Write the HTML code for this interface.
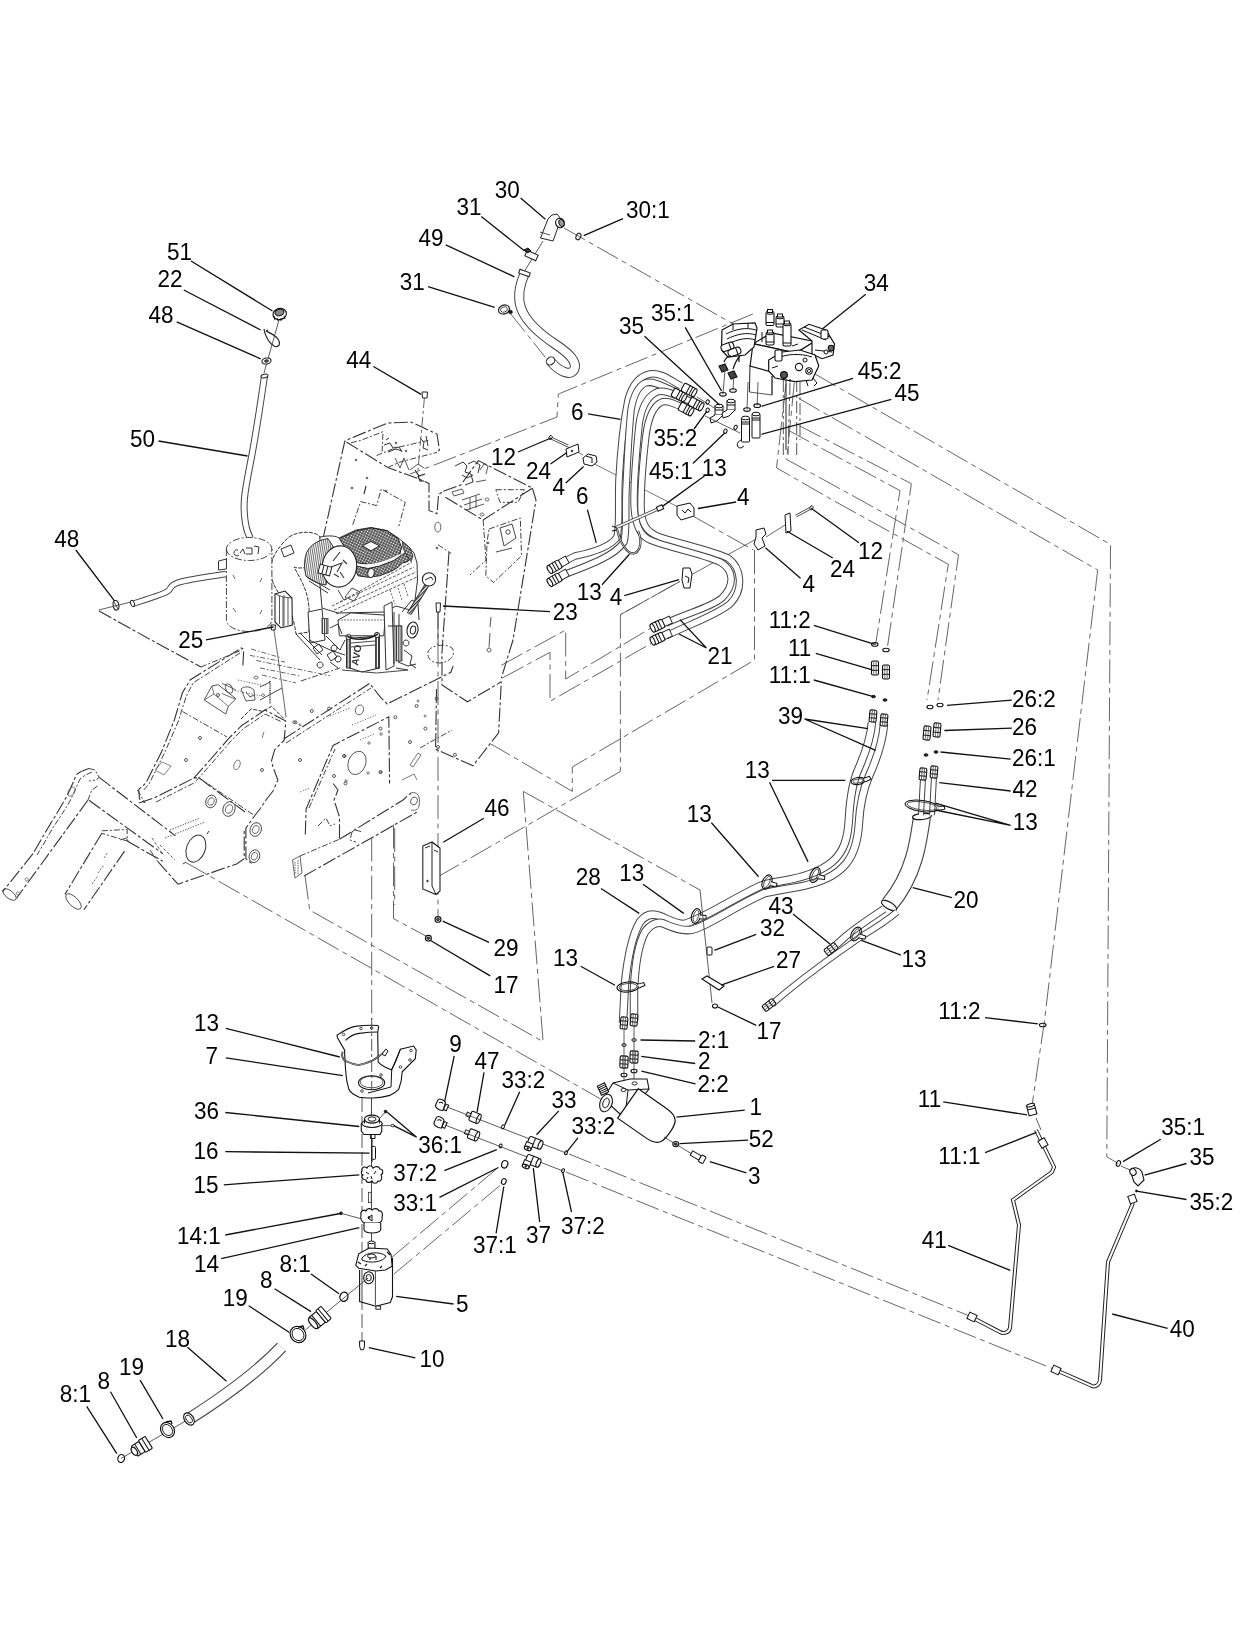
<!DOCTYPE html>
<html><head><meta charset="utf-8"><style>
html,body{margin:0;padding:0;background:#fff;}
svg{display:block;filter:grayscale(100%);}
text{font-family:"Liberation Sans",sans-serif;font-size:22.5px;fill:#000;}
</style></head><body>
<svg width="1258" height="1643" viewBox="0 0 1258 1643">
<rect width="1258" height="1643" fill="#fff"/>
<path d="M322.7 540.0 L344.8 441.2 L349.5 438.8 L387.7 423.0 L411.5 422.2 L437.0 434.0 L439.4 450.0 L437.0 452.4" stroke="#333" stroke-width="1.1" fill="none" stroke-dasharray="14 2.5 3 2.5"/>
<path d="M351.0 442.8 L360.7 440.4 L383.0 431.7 L382.1 451.6" stroke="#444" stroke-width="1" fill="none" stroke-dasharray="6 2 2 2"/>
<path d="M346.4 442.0 L387.7 467.5 L417.9 478.6 L429.0 483.4 L429.0 510.4 L437.0 513.6 L438.6 494.5 L443.3 491.3" stroke="#333" stroke-width="1.1" fill="none" stroke-dasharray="14 2.5 3 2.5"/>
<path d="M443.3 491.3 L460.8 485.0 L478.3 460.6 L532.4 488.1 L483.1 520.0 L443.3 496.0" stroke="#333" stroke-width="1.1" fill="none" stroke-dasharray="14 2.5 3 2.5"/>
<path d="M532.4 488.1 L536.0 500.0 L513.0 640.0 L501.3 678.1" stroke="#333" stroke-width="1.1" fill="none" stroke-dasharray="14 2.5 3 2.5"/>
<path d="M483.1 520.0 L486.0 560.0 L470.0 575.0" stroke="#444" stroke-width="1" fill="none" stroke-dasharray="6 2 2 2"/>
<path d="M376.6 455.5 L395.0 448.0 L430.0 440.0" stroke="#444" stroke-width="1" fill="none" stroke-dasharray="6 2 2 2"/>
<path d="M387.7 467.5 L400.0 462.0 L437.0 452.4" stroke="#444" stroke-width="1" fill="none" stroke-dasharray="6 2 2 2"/>
<path d="M352.7 524.7 L360.7 501.6 L376.6 505.6 L381.3 489.0 L405.2 502.4 L398.8 526.3" stroke="#444" stroke-width="1" fill="none" stroke-dasharray="6 2 2 2"/>
<ellipse cx="437.8" cy="527.1" rx="3" ry="5" transform="rotate(0 437.8 527.1)" stroke="#555" stroke-width="0.9" fill="none"/>
<path d="M495.8 489.7 L524.4 489.7 L518 502.4 L500 502.4 Z" stroke="#444" stroke-width="1" fill="none" stroke-dasharray="6 2 2 2"/>
<path d="M452 492 l10 -3 l2 4 l-10 3 Z M462 500 l18 -6 M464 505 l18 -6 M466 510 l18 -6 M470 498 l0 12 M476 496 l0 12" stroke="#444" stroke-width="0.9" fill="none"/>
<path d="M487 498 a2 1.5 0 1 0 0.1 0 M482 513 a2 1.5 0 1 0 0.1 0" stroke="#444" stroke-width="0.8" fill="none"/>
<path d="M455 466 l8 -4 l4 4 l-2 6 l6 2 l2 8 l-8 3 M468 464 l6 -3 l6 4 l-2 8 M462 475 l5 3 l6 -3" stroke="#333" stroke-width="1" fill="none"/>
<path d="M480 470 l4 -6 l4 2 l-2 8 M476 482 l10 -2" stroke="#444" stroke-width="0.9" fill="none"/>
<path d="M384 445 l6 -2 l3 5 l6 -1 l3 5 M388 452 l8 -3 l6 2 M386 440 l3 -2" stroke="#333" stroke-width="1" fill="none"/>
<path d="M420 438 l4 4 l-1 6 l5 2 M426 436 l2 10" stroke="#333" stroke-width="1" fill="none"/>
<path d="M395 458 l5 10 l4 -10 l5 12 M410 470 l8 -6 l6 4" stroke="#444" stroke-width="0.9" fill="none"/>
<path d="M415 470 l4 6 l6 -2 M418 476 l2 5 l4 0" stroke="#222" stroke-width="1.2" fill="none"/>
<circle cx="356" cy="460" r="0.9" stroke="#444" stroke-width="0.6" fill="#666"/>
<circle cx="367" cy="478" r="0.9" stroke="#444" stroke-width="0.6" fill="#666"/>
<circle cx="352" cy="488" r="0.9" stroke="#444" stroke-width="0.6" fill="#666"/>
<circle cx="386" cy="491" r="0.9" stroke="#444" stroke-width="0.6" fill="#666"/>
<circle cx="406" cy="451" r="0.9" stroke="#444" stroke-width="0.6" fill="#666"/>
<circle cx="396" cy="443" r="0.9" stroke="#444" stroke-width="0.6" fill="#666"/>
<circle cx="437" cy="548" r="0.9" stroke="#444" stroke-width="0.6" fill="#666"/>
<circle cx="488" cy="543" r="0.9" stroke="#444" stroke-width="0.6" fill="#666"/>
<path d="M366 486 l-2 8" stroke="#333" stroke-width="1.2" fill="none"/>
<path d="M489 529 L520.3 518 L521.5 555.8 L493.6 582.5 L485.8 575.8 L487 542.4 Z" stroke="#444" stroke-width="1" fill="none" stroke-dasharray="6 2 2 2"/>
<path d="M500 528 L512 524 L516 538 L504 546 Z M496 552 L512 548" stroke="#333" stroke-width="0.9" fill="none"/>
<circle cx="508" cy="532" r="2.2" stroke="#333" stroke-width="0.9" fill="#fff"/>
<path d="M428 652 C430 645 446 643 452 648 C456 653 452 662 440 663 C432 663 427 659 428 652 Z" stroke="#444" stroke-width="1" fill="none" stroke-dasharray="6 2 2 2"/>
<path d="M449.0 552.0 L442.0 652.0 L442.0 685.0 L467.5 701.8 L501.3 681.8" stroke="#333" stroke-width="1.1" fill="none" stroke-dasharray="14 2.5 3 2.5"/>
<path d="M436.5 689.0 L435.6 749.3 L473.0 765.7 L498.6 732.9 L501.3 681.8" stroke="#333" stroke-width="1.1" fill="none" stroke-dasharray="14 2.5 3 2.5"/>
<path d="M438.0 544.7 L451.3 553.6" stroke="#444" stroke-width="1" fill="none" stroke-dasharray="6 2 2 2"/>
<path d="M491 617 l-1 10 M490 633 l-1 14 M489 648 a2 2 0 1 0 0.1 0" stroke="#444" stroke-width="0.9" fill="none"/>
<path d="M242.9 665.4 L243.7 649.5 L241.3 648.0 L190.4 679.7 L182.5 692.5 L174.5 719.5 L161.8 751.3 L145.9 783.0 L138.7 789.4 L139.5 799.0 L145.0 803.0" stroke="#333" stroke-width="1.1" fill="none" stroke-dasharray="14 2.5 3 2.5"/>
<path d="M240.0 653.0 L193.0 683.0 L186.0 697.0 L178.0 722.0 L165.0 752.0 L149.0 784.0 L143.0 791.0" stroke="#444" stroke-width="1" fill="none" stroke-dasharray="6 2 2 2"/>
<path d="M182.5 711.5 L227.0 737.0" stroke="#444" stroke-width="1" fill="none" stroke-dasharray="6 2 2 2"/>
<path d="M193.6 778.3 L210.0 760.0 L228.6 738.6 L241.3 725.9 L265.0 710.0 L285.8 721.0 L284.2 740.2 L274.7 749.7 L271.5 760.8 L273.0 767.2 L277.9 780.0 L273.0 791.0 L266.7 799.0 L260.0 809.0 L254.8 815.5 L245.9 828.2 L245.9 858.8 L252.3 863.9" stroke="#333" stroke-width="1.1" fill="none" stroke-dasharray="14 2.5 3 2.5"/>
<path d="M196.0 781.0 L212.0 763.0 L230.0 742.0 L243.0 729.0 L265.0 714.0 L282.0 722.0" stroke="#444" stroke-width="1" fill="none" stroke-dasharray="6 2 2 2"/>
<polygon points="204.2,700.0 211.8,686.0 218.2,684.7 236.0,698.7 228.3,706.3 225.8,714.0" stroke="#444" stroke-width="0.9" fill="none"/>
<path d="M211.8 686 L214 694 L204.2 700 M214 694 L228.3 706.3" stroke="#555" stroke-width="0.8" fill="none" />
<ellipse cx="229" cy="688.5" rx="3.2" ry="5" transform="rotate(-30 229 688.5)" stroke="#444" stroke-width="0.9" fill="none"/>
<path d="M222 683.4 L236 690 M222 693.6 L235 699" stroke="#444" stroke-width="0.8" fill="none" />
<path d="M241 689 C244 686 250 686 254 690 L255 700 L246 701 Z" stroke="#444" stroke-width="0.9" fill="none" />
<path d="M246 692 l4 5 l4 -2" stroke="#333" stroke-width="0.9" fill="none" />
<path d="M270 681 L270 704" stroke="#444" stroke-width="1.6" stroke-dasharray="1 0.8" fill="none"/>
<path d="M260 687 L270 682 M260 700 L282 688" stroke="#333" stroke-width="0.9" fill="none" />
<path d="M250 655.4 L285 662 M256.3 660.5 L330 675.8 M251.2 649 L281.7 658 M260 668 L300 676 M262 675 L296 683" stroke="#555" stroke-width="0.9" fill="none" stroke-dasharray="5 2 1.5 2"/>
<path d="M241 719 L251.2 708.9 L262.7 711.4 L271.6 706.3 L284.3 719" stroke="#333" stroke-width="1" fill="none" stroke-dasharray="4 1.5"/>
<path d="M300.8 681 L340 668" stroke="#444" stroke-width="1" fill="none" stroke-dasharray="6 2 2 2"/>
<path d="M294 721 a1.5 1.2 0 1 0 0.1 0 M263 694 a1.5 1.2 0 1 0 0.1 0 M256 676 a2 1.5 0 1 0 0.1 0" stroke="#444" stroke-width="0.8" fill="none"/>
<polygon points="155.0,770.0 162.0,762.0 171.0,766.0 164.0,775.0" stroke="#666" stroke-width="0.8" fill="none"/>
<path d="M238 760 a3 5 20 1 0 0.1 0 M262 738 l2 -6" stroke="#555" stroke-width="0.8" fill="none"/>
<path d="M283.8 739.0 L369.7 683.4 L380.8 697.7 L387.2 704.0 L450.8 672.3 L453.2 665.9" stroke="#333" stroke-width="1.1" fill="none" stroke-dasharray="14 2.5 3 2.5"/>
<path d="M286.0 743.0 L371.0 688.0" stroke="#444" stroke-width="1" fill="none" stroke-dasharray="6 2 2 2"/>
<path d="M360 705 a4 5 20 1 0 0.1 0" stroke="#555" stroke-width="0.9" fill="none"/>
<path d="M300 724 a1 1 0 1 0 0.1 0 M418 700 a1 1 0 1 0 0.1 0 M425 715 a1 1 0 1 0 0.1 0" stroke="#555" stroke-width="0.8" fill="none"/>
<path d="M305.3 834.4 L306.1 809.0 L333.1 745.4 L388.8 716.8 L389.6 783.5" stroke="#333" stroke-width="1.1" fill="none" stroke-dasharray="14 2.5 3 2.5"/>
<path d="M309.0 808.0 L335.0 749.0" stroke="#444" stroke-width="1" fill="none" stroke-dasharray="6 2 2 2"/>
<ellipse cx="357" cy="762.9" rx="8.7" ry="12" transform="rotate(20 357 762.9)" stroke="#555" stroke-width="0.9" fill="none"/>
<circle cx="345" cy="756" r="1.2" stroke="#555" stroke-width="0.8" fill="none"/>
<circle cx="369" cy="743" r="1.2" stroke="#555" stroke-width="0.8" fill="none"/>
<circle cx="381" cy="734" r="1.2" stroke="#555" stroke-width="0.8" fill="none"/>
<circle cx="346" cy="781" r="1.2" stroke="#555" stroke-width="0.8" fill="none"/>
<circle cx="368" cy="773" r="1.2" stroke="#555" stroke-width="0.8" fill="none"/>
<circle cx="381" cy="772" r="1.2" stroke="#555" stroke-width="0.8" fill="none"/>
<path d="M333.1 783.5 L338.0 790.0 L334.0 800.0 L339.5 817.0 L339.5 839.2" stroke="#333" stroke-width="1.1" fill="none" stroke-dasharray="14 2.5 3 2.5"/>
<path d="M318.0 826.0 L326.0 818.0 L330.0 826.0 L335.0 824.0" stroke="#444" stroke-width="1" fill="none" stroke-dasharray="6 2 2 2"/>
<path d="M339.5 839.2 L403.0 800.0 L411.0 793.0" stroke="#333" stroke-width="1.1" fill="none" stroke-dasharray="14 2.5 3 2.5"/>
<path d="M304.0 876.0 L382.0 832.0 L417.0 812.0" stroke="#333" stroke-width="1.1" fill="none" stroke-dasharray="14 2.5 3 2.5"/>
<path d="M411 793 C417 791 421 796 419 806 C418 810 414 811 411 810" stroke="#555" stroke-width="0.9" fill="none" />
<ellipse cx="414" cy="801" rx="3.2" ry="4" transform="rotate(20 414 801)" stroke="#555" stroke-width="0.9" fill="none"/>
<polygon points="292.5,860.0 300.0,856.0 302.0,873.0 295.0,878.0" stroke="#555" stroke-width="0.9" fill="none"/>
<path d="M295 862 l0 12 M298 860 l0 14" stroke="#555" stroke-width="0.9" fill="none" stroke-dasharray="1.5 1"/>
<path d="M300.0 856.0 L339.5 839.2" stroke="#444" stroke-width="1" fill="none" stroke-dasharray="6 2 2 2"/>
<path d="M345 836 l10 -6 l8 2 M352 832 l-2 8 l6 2" stroke="#444" stroke-width="1" fill="none" stroke-dasharray="6 2 2 2"/>
<path d="M410 765 l8 -12 l3 2 l-8 12 Z M402 780 l12 -6 l3 6" stroke="#555" stroke-width="0.8" fill="none"/>
<path d="M420.0 748.0 L452.0 730.0" stroke="#444" stroke-width="1" fill="none" stroke-dasharray="6 2 2 2"/>
<path d="M89 768.5 C84 770 79 772 76.3 774.8 C72 785 69 792 66 797.7 C60 808 56 815 50.9 823 C45 833 38 845 33 853.7" stroke="#333" stroke-width="1.1" fill="none" stroke-dasharray="14 2.5 3 2.5"/>
<path d="M92 772 C87 774 82 777 80 779 C76 788 73 795 70 801 C64 811 59 819 54 826 C48 836 42 847 37 855" stroke="#444" stroke-width="1" fill="none" stroke-dasharray="6 2 2 2"/>
<path d="M33.0 853.7 L2.5 891.8" stroke="#333" stroke-width="1.1" fill="none" stroke-dasharray="14 2.5 3 2.5"/>
<path d="M87.8 800.3 L16.5 898.2" stroke="#333" stroke-width="1.1" fill="none" stroke-dasharray="14 2.5 3 2.5"/>
<ellipse cx="9.5" cy="894.5" rx="8" ry="3.8" transform="rotate(38 9.5 894.5)" stroke="#444" stroke-width="0.9" fill="none"/>
<path d="M26.7 877.9 a1.6 1.6 0 1 0 0.1 0 M17.8 891.8 a1.6 1.6 0 1 0 0.1 0 M73 787 a3 5 30 1 0 0.1 0" stroke="#555" stroke-width="0.8" fill="none"/>
<path d="M89.0 768.5 L95.0 770.0 L99.2 777.4 L96.0 780.0 L89.0 781.0" stroke="#444" stroke-width="1" fill="none" stroke-dasharray="6 2 2 2"/>
<path d="M99.2 777.4 L175.5 835.9" stroke="#333" stroke-width="1.1" fill="none" stroke-dasharray="14 2.5 3 2.5"/>
<path d="M89.0 800.3 L162.8 853.7" stroke="#333" stroke-width="1.1" fill="none" stroke-dasharray="14 2.5 3 2.5"/>
<path d="M87.8 800.3 L92.0 790.0 L99.0 785.0" stroke="#444" stroke-width="1" fill="none" stroke-dasharray="6 2 2 2"/>
<path d="M101.8 830.8 L127.2 829.5 L127.2 841.0 L101.8 833.3" stroke="#444" stroke-width="1" fill="none" stroke-dasharray="6 2 2 2"/>
<path d="M101.8 833.3 L64.9 894.4" stroke="#333" stroke-width="1.1" fill="none" stroke-dasharray="14 2.5 3 2.5"/>
<path d="M124.6 851.1 L84.0 909.7" stroke="#333" stroke-width="1.1" fill="none" stroke-dasharray="14 2.5 3 2.5"/>
<ellipse cx="73.5" cy="901.5" rx="10" ry="4.5" transform="rotate(45 73.5 901.5)" stroke="#444" stroke-width="0.9" fill="none"/>
<path d="M127.2 841.0 L162.8 861.3" stroke="#333" stroke-width="1.1" fill="none" stroke-dasharray="14 2.5 3 2.5"/>
<path d="M98 873 l6 -8 M92 884 l6 -8 M104 858 l4 -6" stroke="#555" stroke-width="0.9" fill="none" stroke-dasharray="2 1.5"/>
<path d="M120 840 l6 -2 l3 4" stroke="#444" stroke-width="0.9" fill="none"/>
<path d="M157.7 861.3 L178.0 884.2 L236.6 863.9 L244.2 858.8 L244.2 830.8" stroke="#333" stroke-width="1.1" fill="none" stroke-dasharray="14 2.5 3 2.5"/>
<path d="M137.4 790.0 L145.0 802.8" stroke="#444" stroke-width="1" fill="none" stroke-dasharray="6 2 2 2"/>
<path d="M150.0 850.0 L157.7 861.3" stroke="#444" stroke-width="1" fill="none" stroke-dasharray="6 2 2 2"/>
<path d="M160 845 L175 860 M152 838 L162 853" stroke="#555" stroke-width="0.9" fill="none" stroke-dasharray="3 2"/>
<ellipse cx="195.9" cy="848.6" rx="9.3" ry="14" transform="rotate(20 195.9 848.6)" stroke="#333" stroke-width="1" fill="none"/>
<path d="M186 862 l-3 2 M207 834 l2 -3" stroke="#333" stroke-width="1" fill="none" />
<path d="M170 830 L200 818 M165 838 L205 822" stroke="#555" stroke-width="0.9" fill="none" stroke-dasharray="1.5 1.2"/>
<path d="M139.0 803.0 L154.0 798.0 L194.0 778.0 L199.0 777.8 L228.0 799.4 L245.0 812.0" stroke="#333" stroke-width="1.1" fill="none" stroke-dasharray="14 2.5 3 2.5"/>
<path d="M156.0 802.0 L196.0 782.0" stroke="#444" stroke-width="1" fill="none" stroke-dasharray="6 2 2 2"/>
<ellipse cx="211" cy="801.5" rx="5.2" ry="6.5" transform="rotate(20 211 801.5)" stroke="#444" stroke-width="0.9" fill="none"/>
<ellipse cx="211" cy="801.5" rx="2.9250000000000003" ry="3.9" transform="rotate(20 211 801.5)" stroke="#555" stroke-width="0.8" fill="none"/>
<ellipse cx="229" cy="809" rx="6.0" ry="7.5" transform="rotate(20 229 809)" stroke="#444" stroke-width="0.9" fill="none"/>
<ellipse cx="229" cy="809" rx="3.375" ry="4.5" transform="rotate(20 229 809)" stroke="#555" stroke-width="0.8" fill="none"/>
<ellipse cx="255.7" cy="829.5" rx="5.6000000000000005" ry="7" transform="rotate(20 255.7 829.5)" stroke="#444" stroke-width="0.9" fill="none"/>
<ellipse cx="255.7" cy="829.5" rx="3.15" ry="4.2" transform="rotate(20 255.7 829.5)" stroke="#555" stroke-width="0.8" fill="none"/>
<ellipse cx="254.4" cy="856.2" rx="5.2" ry="6.5" transform="rotate(20 254.4 856.2)" stroke="#444" stroke-width="0.9" fill="none"/>
<ellipse cx="254.4" cy="856.2" rx="2.9250000000000003" ry="3.9" transform="rotate(20 254.4 856.2)" stroke="#555" stroke-width="0.8" fill="none"/>
<path d="M198.4 777.4 L254.4 815.5" stroke="#444" stroke-width="1" fill="none" stroke-dasharray="6 2 2 2"/>
<circle cx="295.5" cy="722.3" r="1.5" stroke="#444" stroke-width="0.9" fill="none"/>
<circle cx="329" cy="708.6" r="1.5" stroke="#444" stroke-width="0.9" fill="none"/>
<circle cx="380.4" cy="728.6" r="1.5" stroke="#444" stroke-width="0.9" fill="none"/>
<circle cx="416.6" cy="706" r="1.5" stroke="#444" stroke-width="0.9" fill="none"/>
<circle cx="425.4" cy="728.6" r="1.5" stroke="#444" stroke-width="0.9" fill="none"/>
<circle cx="395.4" cy="717.3" r="1.5" stroke="#444" stroke-width="0.9" fill="none"/>
<circle cx="311.8" cy="711" r="1.5" stroke="#444" stroke-width="0.9" fill="none"/>
<circle cx="344" cy="756" r="1.5" stroke="#444" stroke-width="0.9" fill="none"/>
<circle cx="380.4" cy="772.2" r="1.5" stroke="#444" stroke-width="0.9" fill="none"/>
<circle cx="334" cy="776" r="1.5" stroke="#444" stroke-width="0.9" fill="none"/>
<circle cx="345.5" cy="783.5" r="1.5" stroke="#444" stroke-width="0.9" fill="none"/>
<circle cx="436.6" cy="698.6" r="1.5" stroke="#444" stroke-width="0.9" fill="none"/>
<circle cx="455" cy="754.8" r="1.5" stroke="#444" stroke-width="0.9" fill="none"/>
<circle cx="438" cy="747" r="1.5" stroke="#444" stroke-width="0.9" fill="none"/>
<circle cx="218" cy="695" r="1.5" stroke="#444" stroke-width="0.9" fill="none"/>
<circle cx="200" cy="738" r="1.5" stroke="#444" stroke-width="0.9" fill="none"/>
<circle cx="262" cy="770" r="1.5" stroke="#444" stroke-width="0.9" fill="none"/>
<circle cx="186" cy="760" r="1.5" stroke="#444" stroke-width="0.9" fill="none"/>
<circle cx="410" cy="742" r="1.5" stroke="#444" stroke-width="0.9" fill="none"/>
<circle cx="300" cy="760" r="1.5" stroke="#444" stroke-width="0.9" fill="none"/>
<path d="M330 716 l20 -8 M352 725 l24 -10 M360 740 l14 -6 M300 792 l10 -4" stroke="#555" stroke-width="0.9" fill="none" stroke-dasharray="1.2 1.6"/>
<path d="M238 680 l28 6 M232 690 l30 6" stroke="#555" stroke-width="0.9" fill="none" stroke-dasharray="1.2 1.6"/>
<path d="M201.0 667.0 L242.0 650.0" stroke="#444" stroke-width="1" fill="none" stroke-dasharray="6 2 2 2"/>
<path d="M99.0 611.0 L151.2 640.0 L201.0 667.0" stroke="#333" stroke-width="1.1" fill="none" stroke-dasharray="14 2.5 3 2.5"/>
<path d="M185.7 862.4 L600.3 1098.8" stroke="#666" stroke-width="1" fill="none" stroke-dasharray="24 4.5 5 4.5"/>
<path d="M305.0 875.8 L309.7 910.1 L543.1 1041.6 L523.3 791.4" stroke="#666" stroke-width="1" fill="none" stroke-dasharray="24 4.5 5 4.5"/>
<path d="M371.7 837.6 L371.7 1020.0" stroke="#666" stroke-width="1" fill="none" stroke-dasharray="24 4.5 5 4.5"/>
<path d="M438.0 605.0 L438.0 919.0" stroke="#666" stroke-width="1" fill="none" stroke-dasharray="24 4.5 5 4.5"/>
<path d="M393.5 824.5 L393.5 918.6 L429.0 937.7" stroke="#666" stroke-width="1" fill="none" stroke-dasharray="24 4.5 5 4.5"/>
<path d="M523.3 791.4 L700.0 890.0" stroke="#666" stroke-width="1" fill="none" stroke-dasharray="24 4.5 5 4.5"/>
<path d="M438.0 876.7 L571.2 800.0" stroke="#666" stroke-width="1" fill="none" stroke-dasharray="24 4.5 5 4.5"/>
<path d="M394.7 828.2 L394.7 905.0" stroke="#666" stroke-width="1" fill="none" stroke-dasharray="24 4.5 5 4.5"/>
<path d="M501.3 665.3 L565.7 630.0 L565.7 679.0 L651.3 627.8" stroke="#666" stroke-width="1" fill="none" stroke-dasharray="24 4.5 5 4.5"/>
<path d="M502.2 678.1 L550.0 652.3 L550.0 701.3 L651.3 643.4" stroke="#666" stroke-width="1" fill="none" stroke-dasharray="24 4.5 5 4.5"/>
<path d="M620.4 614.7 L620.4 771.4 L571.2 800.0" stroke="#666" stroke-width="1" fill="none" stroke-dasharray="24 4.5 5 4.5"/>
<path d="M754.5 550.0 L754.5 660.1 L572.3 767.0 L572.3 791.4 L491.0 744.0" stroke="#666" stroke-width="1" fill="none" stroke-dasharray="24 4.5 5 4.5"/>
<path d="M620.4 614.7 L680.0 581.4" stroke="#666" stroke-width="1" fill="none" stroke-dasharray="24 4.5 5 4.5"/>
<path d="M752.9 314.0 L558.3 394.1 L557.0 417.0 L440.0 462.8 L410.0 474.0" stroke="#666" stroke-width="1" fill="none" stroke-dasharray="24 4.5 5 4.5"/>
<path d="M551.0 438.0 L583.0 455.0" stroke="#444" stroke-width="0.8" fill="none"/>
<path d="M583.0 458.0 L680.0 508.0" stroke="#555" stroke-width="0.8" fill="none"/>
<path d="M694.0 516.7 L753.4 550.0" stroke="#666" stroke-width="1" fill="none" stroke-dasharray="24 4.5 5 4.5"/>
<path d="M692.0 574.4 L760.0 537.0" stroke="#444" stroke-width="0.8" fill="none"/>
<path d="M680.0 581.4 L620.4 614.7" stroke="#666" stroke-width="1" fill="none" stroke-dasharray="24 4.5 5 4.5"/>
<defs><pattern id="mesh" width="2.6" height="2.6" patternUnits="userSpaceOnUse" patternTransform="rotate(25)"><rect width="2.6" height="2.6" fill="#222"/><rect x="0.45" y="0.45" width="1.7" height="1.7" fill="#fff"/></pattern><pattern id="rib" width="1.9" height="4" patternUnits="userSpaceOnUse" patternTransform="rotate(8)"><rect width="1.9" height="4" fill="#fff"/><rect width="0.8" height="4" fill="#555"/></pattern><pattern id="hatch" width="2.5" height="2.5" patternUnits="userSpaceOnUse" patternTransform="rotate(45)"><rect width="2.5" height="2.5" fill="#fff"/><rect width="1.2" height="2.5" fill="#222"/></pattern><pattern id="vhatch" width="1.8" height="3" patternUnits="userSpaceOnUse"><rect width="1.8" height="3" fill="#fff"/><rect width="0.9" height="3" fill="#333"/></pattern></defs>
<path d="M289 537 C295 533 305 531 313 533 C317 534 319 535 320 537 L322 560 C318 566 300 570 294 567 C300 578 306 588 308 600 C310 612 309 622 309 632 L296 634 C294 620 290 606 282 597 C274 588 270 578 271 566 C272 556 280 545 289 537 Z" stroke="#333" stroke-width="1" fill="#fff" stroke-dasharray="4 1.2"/>
<path d="M281 549 l10 -4 l3 8 l-10 4 Z" stroke="#333" stroke-width="1" fill="#fff" />
<path d="M320 537 C330 535 336 536 339 538 L356 530 L371 527.5 L387 530.5 L399 538.5 L409 547 L414 553 L417 563 L417.5 580 L415 600 L410 610 L396 606 L385 612 L338 613 L322 608 L320 585 Z" stroke="#333" stroke-width="1" fill="#fff" />
<polygon points="339.4,538.6 356.6,530.7 370.9,527.9 386.6,530.7 398.1,538.6 401.6,547.2 399.5,555.8 390.9,558.6 379.5,562.9 368.0,564.4 358.0,562.9 350.8,554.3 343.7,545.8" stroke="#222" stroke-width="1" fill="url(#mesh)"/>
<polygon points="362.3,545.8 370.9,541.5 379.5,545.8 370.9,550.8" stroke="#222" stroke-width="1" fill="#fff"/>
<path d="M356.6 566 L368 568.5 L379.5 566 L393.8 560.5 L402.4 554.5 L408 551 L411 556 L408 561.5 L402.4 563 L398.1 567.2 L390.9 571.5 L379.5 575.8 L368 577.2 L358 575.8 L356 571 Z" stroke="#222" stroke-width="1" fill="url(#mesh)"/>
<ellipse cx="371" cy="573" rx="3.2" ry="4.5" transform="rotate(10 371 573)" stroke="#222" stroke-width="1" fill="#fff"/>
<path d="M356.6 564.5 C368 567 382 564 400 555" stroke="#fff" stroke-width="1.6" fill="none" />
<path d="M402.4 541.5 L410 548 L413 556 L411 561.5 L407 556 L403 548 Z" stroke="#222" stroke-width="0.8" fill="url(#mesh)"/>
<path d="M306.5 552.9 C310 545 318 540 328 538.6 L334 548 L326 585 C318 584 310 580 306 576 C304 568 304 560 306.5 552.9 Z" stroke="#333" stroke-width="1" fill="url(#rib)" />
<ellipse cx="339.4" cy="566.5" rx="17.2" ry="20.7" transform="rotate(8 339.4 566.5)" stroke="#222" stroke-width="1.1" fill="#fff"/>
<path d="M333 561 l7 -9 M331 567 l11 -4 l-5 9 M340 572 l4 6 M334 574 l5 3 M343 560 l4 4" stroke="#333" stroke-width="1.1" fill="none" />
<g transform="translate(321 569) rotate(15)"><rect x="-2" y="-4.5" width="12" height="9" stroke="#222" stroke-width="1" fill="#fff"/><line x1="2" y1="-4.5" x2="2" y2="4.5" stroke="#222"/><line x1="6" y1="-4.5" x2="6" y2="4.5" stroke="#222"/></g>
<path d="M307 577 L330 590 M309 581 L328 593" stroke="#333" stroke-width="1" fill="none" />
<path d="M332 606 L414 567 M334 610 L416 572 M336 614 L417 577 M340 602 L412 562" stroke="#444" stroke-width="0.9" fill="none" stroke-dasharray="3 1.5"/>
<path d="M345 597 L352 588 L360 592 L354 601 Z M338 590 L344 600" stroke="#333" stroke-width="0.9" fill="none" />
<path d="M390 590 L395 604 M398 588 L402 600 M404 584 L408 596" stroke="#555" stroke-width="0.9" fill="none" stroke-dasharray="2 1.5"/>
<polygon points="338.0,620.0 350.8,612.9 383.8,615.0 385.2,618.6 383.8,635.8 339.4,635.8" stroke="#333" stroke-width="1" fill="#fff"/>
<path d="M338 620 L384 620" stroke="#555" stroke-width="0.8" fill="none" stroke-dasharray="2 1"/>
<polygon points="346.6,638.6 379.5,636.0 379.5,668.0 362.0,672.0 346.6,667.0" stroke="#222" stroke-width="1" fill="#fff"/>
<rect x="346.6" y="638" width="4" height="30" fill="url(#vhatch)" stroke="#222" stroke-width="0.8"/>
<rect x="375.5" y="636" width="4" height="32" fill="url(#vhatch)" stroke="#222" stroke-width="0.8"/>
<path d="M351 643 L375 641 M351 647 L375 645" stroke="#333" stroke-width="0.9" fill="none" />
<text x="358" y="666" transform="rotate(-80 358 666)" style="font-size:10px;font-weight:bold;fill:#333">AVO</text>
<circle cx="348.5" cy="637" r="2.6" stroke="#222" stroke-width="1" fill="#fff"/>
<circle cx="377" cy="635" r="2.6" stroke="#222" stroke-width="1" fill="#fff"/>
<path d="M347 636 C355 641 368 640 378 634" stroke="#222" stroke-width="1.6" fill="none" />
<path d="M308 612 L322 609 L325 640 L310 643 Z" stroke="#333" stroke-width="1" fill="#fff" />
<rect x="322" y="618.6" width="6" height="15" fill="url(#vhatch)" stroke="#333" stroke-width="0.8"/>
<path d="M296 634 L320 660 M300 633 L322 655 M309 640 L330 650 L345 655" stroke="#333" stroke-width="1" fill="none" />
<path d="M313 648 l6 -4 l4 6 l-6 4 Z M327 655 l6 -4 l4 6 l-6 4 Z M320 662 a3 3 0 1 0 0.1 0 M330 662 l8 6" stroke="#333" stroke-width="1" fill="none" />
<path d="M326 636 L340 650 L345 640 M330 628 l8 -4 l4 10" stroke="#333" stroke-width="1" fill="none" />
<path d="M334 645 a3 3 0 1 0 0.1 0 M338 656 a3 3 0 1 0 0.1 0" stroke="#222" stroke-width="1" fill="none" />
<path d="M275 594 L285 591 L292 598 L292.3 625 L281 628 L275 622 Z" stroke="#222" stroke-width="1.1" fill="#fff" />
<path d="M279.5 596 L279.5 624 M284 595 L284 626 M288 597 L288 625 M275 594 L283 597 L292 598 M283 597 L283 627" stroke="#444" stroke-width="0.9" fill="none" />
<path d="M384 606 L392 602 L394 666 L386 670 Z" stroke="#333" stroke-width="1" fill="#fff" />
<path d="M394 612 L394 664 M399 614 L399 662 M388 626 L402 626" stroke="#333" stroke-width="1" fill="none" />
<rect x="396" y="626" width="6" height="35" fill="url(#vhatch)" stroke="#333" stroke-width="0.8"/>
<ellipse cx="412.5" cy="630" rx="5.5" ry="8" transform="rotate(10 412.5 630)" stroke="#222" stroke-width="1.1" fill="#fff"/>
<ellipse cx="413" cy="630" rx="2.6" ry="4" transform="rotate(10 413 630)" stroke="#222" stroke-width="1" fill="none"/>
<path d="M402 612 L412 600 L418 604 L419 620 M404 650 l8 6 l-2 8 l6 4 M398 662 l10 4 l8 -2" stroke="#333" stroke-width="1" fill="none" />
<path d="M406 640 a3 3 0 1 0 0.1 0 M396 668 l12 2" stroke="#333" stroke-width="1" fill="none" />
<path d="M409 614 L427 585" stroke="#333" stroke-width="5" fill="none"/><path d="M409 614 L427 585" stroke="url(#hatch)" stroke-width="3" fill="none"/>
<circle cx="429" cy="579.4" r="6.6" stroke="#222" stroke-width="1.1" fill="#fff"/>
<path d="M425 580 l6 -3 l2 3" stroke="#222" stroke-width="1" fill="none" />
<path d="M342 670 L376.6 673 L408 670" stroke="#444" stroke-width="1" fill="none" />
<path d="M273.5 627.0 L279.0 664.0 L286.0 717.0" stroke="#444" stroke-width="0.8" fill="none"/>
<path d="M271 625 L275.5 625 L275 630 L271.5 630 Z" stroke="#222" stroke-width="1" fill="#fff" />
<path d="M436 603 L440.5 603 L440 612 L436.5 612 Z" stroke="#222" stroke-width="1" fill="#fff" />
<path d="M438.0 612.0 L438.0 645.0" stroke="#333" stroke-width="0.8" fill="none"/>
<path d="M422 392 L427.5 392 L427 398 L422.5 398 Z" stroke="#222" stroke-width="1" fill="#fff" />
<path d="M424.4 398.0 L418.0 470.0" stroke="#555" stroke-width="0.9" fill="none" stroke-dasharray="10 3 3 3"/>
<path d="M279.0 320.0 L264.0 373.0" stroke="#333" stroke-width="0.8" fill="none"/>
<path d="M264.5 376 C261 400 256 435 250 465 S243 505 245 520 S249 533 250 538" stroke="#444" stroke-width="7" fill="none" stroke-linecap="butt" stroke-linejoin="round"/>
<path d="M264.5 376 C261 400 256 435 250 465 S243 505 245 520 S249 533 250 538" stroke="#fff" stroke-width="5" fill="none" stroke-linecap="butt" stroke-linejoin="round"/>
<ellipse cx="264.5" cy="376" rx="3.6" ry="1.8" transform="rotate(-10 264.5 376)" stroke="#222" stroke-width="1" fill="#fff"/>
<ellipse cx="279.7" cy="314" rx="6.8" ry="5.6" transform="rotate(-15 279.7 314)" stroke="#111" stroke-width="1.2" fill="#fff"/>
<ellipse cx="279.5" cy="312.5" rx="4.5" ry="3.2" transform="rotate(-15 279.5 312.5)" stroke="#111" stroke-width="1" fill="#888"/>
<path d="M274 316 L275 320 M277 318 L278 321 M281 318 L281 321 M284 316 L285 319" stroke="#111" stroke-width="0.9" fill="none" />
<path d="M264 329 C265 336 269 343 274 346 C279 348 281 344 278 339 C275 335 270 333 266 331 M266 331 L268 330" stroke="#222" stroke-width="1.2" fill="none" />
<ellipse cx="266.5" cy="361" rx="4.6" ry="3" transform="rotate(-10 266.5 361)" stroke="#222" stroke-width="1.1" fill="#fff"/>
<ellipse cx="266.5" cy="361" rx="2" ry="1.2" transform="rotate(-10 266.5 361)" stroke="#222" stroke-width="0.8" fill="#555"/>
<path d="M226.4 549 L226.4 620 A22.7 11.5 0 0 0 271.9 620 L271.9 549 A22.7 11.5 0 0 0 226.4 549 Z" stroke="#444" stroke-width="1" fill="#fff" stroke-dasharray="7 2 2 2"/>
<path d="M226.4 549 A22.7 11.5 0 0 0 271.9 549" stroke="#444" stroke-width="1" fill="none" stroke-dasharray="7 2 2 2"/>
<path d="M240 553 l3 -4 l2 5 M246 548 l6 0 l0 6 l-6 0 M254 546 l5 1 l-1 7 M238 550 a3 3 0 1 0 1 5" stroke="#333" stroke-width="1" fill="none" />
<path d="M233 575 l2 4 M233 608 l3 4 M262 578 l-2 4 M262 610 l-2 4" stroke="#555" stroke-width="0.9" fill="none" />
<polygon points="218.5,561.0 226.4,559.0 226.4,569.0 218.5,570.0" stroke="#333" stroke-width="1" fill="#fff"/>
<path d="M226 574 C205 577 185 580 177 583 S172 588 168 591 S145 600 132 604" stroke="#444" stroke-width="6.5" fill="none" stroke-linecap="butt" stroke-linejoin="round"/>
<path d="M226 574 C205 577 185 580 177 583 S172 588 168 591 S145 600 132 604" stroke="#fff" stroke-width="4.5" fill="none" stroke-linecap="butt" stroke-linejoin="round"/>
<ellipse cx="132.5" cy="603.5" rx="1.8" ry="3.3" transform="rotate(-20 132.5 603.5)" stroke="#222" stroke-width="1" fill="#fff"/>
<ellipse cx="116" cy="605.3" rx="2.8" ry="4.8" transform="rotate(-10 116 605.3)" stroke="#222" stroke-width="1.1" fill="#fff"/>
<path d="M114.0 602.0 L118.0 609.0" stroke="#222" stroke-width="0.8" fill="none"/>
<path d="M98.7 610.0 L131.0 602.0" stroke="#333" stroke-width="0.8" fill="none"/>
<polygon points="540.5,238.0 548.0,219.0 552.0,215.0 557.0,214.0 561.0,219.0 553.0,241.0" stroke="#222" stroke-width="1" fill="#fff"/>
<ellipse cx="560" cy="223" rx="4.3" ry="4.8" transform="rotate(-20 560 223)" stroke="#111" stroke-width="1.2" fill="#fff"/>
<ellipse cx="561.5" cy="223" rx="2.5" ry="3.6" transform="rotate(-20 561.5 223)" stroke="#111" stroke-width="1" fill="#999"/>
<path d="M540.0 232.0 L550.0 235.0" stroke="#222" stroke-width="0.8" fill="none"/>
<path d="M543.0 241.0 L524.0 272.0" stroke="#333" stroke-width="0.8" fill="none"/>
<g transform="translate(531.5 255.5) rotate(25)"><rect x="-6" y="-3" width="12" height="6" stroke="#222" stroke-width="1" fill="#fff"/></g>
<path d="M524 250 l4 -2 l3 3 l-4 2 Z" stroke="#111" stroke-width="1" fill="#333" />
<path d="M524.5 274 C520 284 517 296 521 308 C526 322 540 334 555 344 C570 354 578 362 574 370 C570 376 560 372 551 362" stroke="#444" stroke-width="10" fill="none" stroke-linecap="butt" stroke-linejoin="round"/>
<path d="M524.5 274 C520 284 517 296 521 308 C526 322 540 334 555 344 C570 354 578 362 574 370 C570 376 560 372 551 362" stroke="#fff" stroke-width="8" fill="none" stroke-linecap="butt" stroke-linejoin="round"/>
<ellipse cx="550.5" cy="361" rx="4.5" ry="3.6" transform="rotate(-40 550.5 361)" stroke="#222" stroke-width="1" fill="#fff"/>
<g transform="translate(524.5 273) rotate(20)"><rect x="-5.5" y="-2" width="11" height="4" stroke="#222" stroke-width="1" fill="#fff"/></g>
<ellipse cx="504" cy="309.5" rx="5.6" ry="4.4" transform="rotate(-20 504 309.5)" stroke="#222" stroke-width="1.2" fill="none"/>
<ellipse cx="504" cy="309.5" rx="3.5" ry="2.6" transform="rotate(-20 504 309.5)" stroke="#333" stroke-width="0.8" fill="none"/>
<circle cx="510.5" cy="312" r="1.8" stroke="#111" stroke-width="0.8" fill="#111"/>
<path d="M510.0 313.0 L545.4 357.4" stroke="#666" stroke-width="1" fill="none" stroke-dasharray="24 4.5 5 4.5"/>
<path d="M564.0 228.0 L735.0 325.0" stroke="#666" stroke-width="1" fill="none" stroke-dasharray="24 4.5 5 4.5"/>
<ellipse cx="578.4" cy="236.5" rx="2.3" ry="3.4" transform="rotate(25 578.4 236.5)" stroke="#222" stroke-width="1.1" fill="none"/>
<path d="M783.3 380 L783.3 455 M796.7 380 L796.7 455 M790 383 L788 455 M800 382 L800 440" stroke="#444" stroke-width="0.9" fill="none" stroke-dasharray="12 3 3 3"/>
<path d="M786.0 383.8 L776.5 467.8 L832.5 500.0 L948.3 564.3 L927.0 700.0" stroke="#666" stroke-width="1" fill="none" stroke-dasharray="24 4.5 5 4.5"/>
<path d="M794.3 382.5 L786.7 459.5 L860.5 500.0 L958.5 554.8 L938.0 700.0" stroke="#666" stroke-width="1" fill="none" stroke-dasharray="24 4.5 5 4.5"/>
<path d="M799.4 425.8 L911.4 483.7 L887.0 650.0" stroke="#666" stroke-width="1" fill="none" stroke-dasharray="24 4.5 5 4.5"/>
<path d="M788.0 430.2 L900.0 490.6 L875.5 645.0" stroke="#666" stroke-width="1" fill="none" stroke-dasharray="24 4.5 5 4.5"/>
<path d="M798.8 398.4 L1097.7 570.0 L1044.6 1020.0 L1032.4 1103.0" stroke="#666" stroke-width="1" fill="none" stroke-dasharray="24 4.5 5 4.5"/>
<path d="M815.0 374.0 L1110.5 544.5 L1106.8 1156.8 L1118.4 1163.5" stroke="#666" stroke-width="1" fill="none" stroke-dasharray="24 4.5 5 4.5"/>
<path d="M750 365 L749.4 392 M786 378 L786 450 M772 376 L772 395" stroke="#222" stroke-width="1" fill="none" />
<path d="M749.4 392 L772 395 L772 376" stroke="#444" stroke-width="0.9" fill="none" />
<polygon points="753.0,343.7 771.6,333.0 814.5,341.5 796.0,353.0" stroke="#111" stroke-width="1.2" fill="#fff"/>
<polygon points="753.0,343.7 796.0,353.0 796.0,379.0 750.1,366.0" stroke="#111" stroke-width="1.2" fill="#fff"/>
<polygon points="796.0,353.0 814.5,341.5 815.0,364.0 796.0,379.0" stroke="#111" stroke-width="1.2" fill="#fff"/>
<polygon points="722.0,330.0 733.0,324.0 755.0,322.9 757.0,328.0 754.0,347.0 745.0,355.0 728.0,357.0 721.5,350.0" stroke="#111" stroke-width="1.2" fill="#fff"/>
<path d="M726 334 C736 329 746 327 756 330 M727 339 C737 334 747 332 756 335 M728 344 C738 339 748 337 755 340" stroke="#111" stroke-width="1" fill="none" />
<path d="M733 324 L733 330 M748 323 L748 328" stroke="#111" stroke-width="1" fill="none" />
<g transform="translate(727 347) rotate(-20)"><rect x="-6" y="-3.5" width="13" height="7" rx="3" stroke="#111" stroke-width="1.1" fill="#fff"/><line x1="3" y1="-3.5" x2="3" y2="3.5" stroke="#111"/></g>
<g transform="translate(734 352) rotate(-20)"><rect x="-6" y="-3.5" width="13" height="7" rx="3" stroke="#111" stroke-width="1.1" fill="#fff"/><line x1="3" y1="-3.5" x2="3" y2="3.5" stroke="#111"/></g>
<path d="M719 366 l6 -2 l3 6 l-6 2 Z M728 373 l6 -2 l3 6 l-6 2 Z" stroke="#111" stroke-width="1.1" fill="#444" />
<path d="M724 362 C726 357 728 356 731 356 M733 369 C735 363 737 359 740 356 M739 362 l0 -6" stroke="#111" stroke-width="1.2" fill="none" />
<polygon points="799.0,330.0 809.0,324.3 826.0,330.0 834.5,344.0 833.0,355.0 822.0,358.7 812.0,354.0 812.0,341.0" stroke="#111" stroke-width="1.2" fill="#fff"/>
<path d="M802 330 L826 340 M804 327 L830 337 M815 350 L832 352" stroke="#111" stroke-width="1" fill="none" />
<rect x="821" y="330" width="7" height="9" rx="1.5" stroke="#111" stroke-width="1.1" fill="#fff"/>
<circle cx="831" cy="348" r="2.8" stroke="#111" stroke-width="1.1" fill="#666"/>
<circle cx="826" cy="352" r="2" stroke="#111" stroke-width="1" fill="#fff"/>
<polygon points="768.7,360.0 782.0,352.0 800.0,350.0 815.0,355.0 818.8,366.0 812.0,380.0 795.0,381.6 775.0,378.0 768.7,371.0" stroke="#111" stroke-width="1.2" fill="#fff"/>
<circle cx="799" cy="367" r="3.6" stroke="#111" stroke-width="1.1" fill="#fff"/>
<circle cx="809" cy="371" r="3.2" stroke="#111" stroke-width="1.1" fill="#fff"/>
<ellipse cx="809" cy="371" rx="1.6" ry="1.6" transform="rotate(0 809 371)" stroke="#111" stroke-width="0.9" fill="none"/>
<circle cx="784" cy="375" r="3.4" stroke="#111" stroke-width="1.2" fill="#555"/>
<circle cx="805" cy="360" r="2" stroke="#111" stroke-width="1" fill="#fff"/>
<path d="M778 358 C786 354 800 353 812 357 M772 368 l6 -2 M790 379 l0 3" stroke="#111" stroke-width="1" fill="none" />
<rect x="775" y="350" width="7" height="11" rx="1.5" stroke="#111" stroke-width="1.1" fill="#fff"/>
<path d="M813 378 l4 5 l-3 3 M806 380 l2 6" stroke="#111" stroke-width="1" fill="none" />
<rect x="766" y="312.5" width="8" height="13" rx="1.5" stroke="#111" stroke-width="1.1" fill="#fff"/>
<ellipse cx="770" cy="312.5" rx="4" ry="1.8" transform="rotate(0 770 312.5)" stroke="#111" stroke-width="1" fill="#fff"/>
<rect x="767.5" y="309.5" width="5" height="3" stroke="#111" stroke-width="1" fill="#fff"/>
<path d="M766 322.5 l8 0" stroke="#111" stroke-width="1" fill="none" />
<rect x="776" y="317.0" width="8" height="10" rx="1.5" stroke="#111" stroke-width="1.1" fill="#fff"/>
<ellipse cx="780" cy="317.0" rx="4" ry="1.8" transform="rotate(0 780 317.0)" stroke="#111" stroke-width="1" fill="#fff"/>
<rect x="777.5" y="314.0" width="5" height="3" stroke="#111" stroke-width="1" fill="#fff"/>
<path d="M776 324.0 l8 0" stroke="#111" stroke-width="1" fill="none" />
<rect x="783" y="324.0" width="8" height="22" rx="1.5" stroke="#111" stroke-width="1.1" fill="#fff"/>
<ellipse cx="787" cy="324.0" rx="4" ry="1.8" transform="rotate(0 787 324.0)" stroke="#111" stroke-width="1" fill="#fff"/>
<rect x="784.5" y="321.0" width="5" height="3" stroke="#111" stroke-width="1" fill="#fff"/>
<path d="M783 343.0 l8 0" stroke="#111" stroke-width="1" fill="none" />
<rect x="766" y="333.0" width="8" height="12" rx="1.5" stroke="#111" stroke-width="1.1" fill="#fff"/>
<ellipse cx="770" cy="333.0" rx="4" ry="1.8" transform="rotate(0 770 333.0)" stroke="#111" stroke-width="1" fill="#fff"/>
<rect x="767.5" y="330.0" width="5" height="3" stroke="#111" stroke-width="1" fill="#fff"/>
<path d="M766 342.0 l8 0" stroke="#111" stroke-width="1" fill="none" />
<path d="M762 332 l0 10 M792 346 l6 -2" stroke="#111" stroke-width="1" fill="none" />
<path d="M722.9 394.3 L725.0 370.0" stroke="#333" stroke-width="0.8" fill="none"/>
<path d="M733.0 390.5 L734.0 372.0" stroke="#333" stroke-width="0.8" fill="none"/>
<path d="M747.0 409.6 L748.0 382.0" stroke="#333" stroke-width="0.8" fill="none"/>
<path d="M757.2 405.7 L758.0 382.0" stroke="#333" stroke-width="0.8" fill="none"/>
<ellipse cx="722.9" cy="394.3" rx="3.3" ry="1.8" transform="rotate(0 722.9 394.3)" stroke="#111" stroke-width="1.1" fill="none"/>
<ellipse cx="733" cy="390.5" rx="3.3" ry="1.8" transform="rotate(0 733 390.5)" stroke="#111" stroke-width="1.1" fill="none"/>
<ellipse cx="747" cy="409.6" rx="3.3" ry="1.8" transform="rotate(0 747 409.6)" stroke="#111" stroke-width="1.1" fill="none"/>
<ellipse cx="757.2" cy="405.7" rx="3.3" ry="1.8" transform="rotate(0 757.2 405.7)" stroke="#111" stroke-width="1.1" fill="none"/>
<g transform="translate(719 412)"><rect x="-4" y="-6" width="8" height="9" stroke="#111" stroke-width="1" fill="#fff"/><ellipse cx="0" cy="-6" rx="4" ry="1.8" stroke="#111" stroke-width="1" fill="#fff"/><path d="M-4 3 L-9 6 L-8 11 L-2 9 L4 3" stroke="#111" stroke-width="1" fill="#fff"/><line x1="-4" y1="-2" x2="4" y2="-2" stroke="#111"/></g>
<g transform="translate(731 407)"><rect x="-4" y="-6" width="8" height="9" stroke="#111" stroke-width="1" fill="#fff"/><ellipse cx="0" cy="-6" rx="4" ry="1.8" stroke="#111" stroke-width="1" fill="#fff"/><path d="M-4 3 L-9 6 L-8 11 L-2 9 L4 3" stroke="#111" stroke-width="1" fill="#fff"/><line x1="-4" y1="-2" x2="4" y2="-2" stroke="#111"/></g>
<g transform="translate(745.5 430)"><rect x="-4" y="-12" width="8" height="24" rx="1" stroke="#111" stroke-width="1" fill="#fff"/><ellipse cx="0" cy="-12" rx="4" ry="1.8" stroke="#111" stroke-width="1" fill="#fff"/><line x1="-4" y1="-6" x2="4" y2="-6" stroke="#111"/><line x1="-4" y1="-8" x2="4" y2="-8" stroke="#111"/></g>
<g transform="translate(756 426)"><rect x="-4" y="-12" width="8" height="24" rx="1" stroke="#111" stroke-width="1" fill="#fff"/><ellipse cx="0" cy="-12" rx="4" ry="1.8" stroke="#111" stroke-width="1" fill="#fff"/><line x1="-4" y1="-6" x2="4" y2="-6" stroke="#111"/><line x1="-4" y1="-8" x2="4" y2="-8" stroke="#111"/></g>
<path d="M741 440 C736 442 736 448 741 448 L744 446" stroke="#111" stroke-width="1" fill="none" />
<ellipse cx="707.6" cy="402" rx="1.6" ry="2.2" transform="rotate(20 707.6 402)" stroke="#111" stroke-width="1" fill="none"/>
<ellipse cx="707.6" cy="410.2" rx="1.6" ry="2.2" transform="rotate(20 707.6 410.2)" stroke="#111" stroke-width="1" fill="none"/>
<ellipse cx="725.4" cy="431.2" rx="1.6" ry="2.2" transform="rotate(20 725.4 431.2)" stroke="#111" stroke-width="1" fill="none"/>
<ellipse cx="735.6" cy="427.4" rx="1.6" ry="2.2" transform="rotate(20 735.6 427.4)" stroke="#111" stroke-width="1" fill="none"/>
<path d="M697.0 397.0 L716.0 409.0" stroke="#333" stroke-width="0.8" fill="none"/>
<path d="M705.0 416.0 L740.0 433.0" stroke="#333" stroke-width="0.8" fill="none"/>
<path d="M681 386 C670 380 660 372 650 374 C640 376 632 385 628 400 C623 425 620 460 619 480 C618 505 620 525 617 537 C610 548 590 553 575 556 L563 562" stroke="#444" stroke-width="7.5" fill="none" stroke-linecap="butt" stroke-linejoin="round"/>
<path d="M681 386 C670 380 660 372 650 374 C640 376 632 385 628 400 C623 425 620 460 619 480 C618 505 620 525 617 537 C610 548 590 553 575 556 L563 562" stroke="#fff" stroke-width="5.5" fill="none" stroke-linecap="butt" stroke-linejoin="round"/>
<path d="M676 392 C666 388 654 380 645 383 C637 387 633 398 631 410 C628 440 627 470 626 490 C625 515 627 530 624 542 C615 555 595 563 563 575" stroke="#444" stroke-width="7.5" fill="none" stroke-linecap="butt" stroke-linejoin="round"/>
<path d="M676 392 C666 388 654 380 645 383 C637 387 633 398 631 410 C628 440 627 470 626 490 C625 515 627 530 624 542 C615 555 595 563 563 575" stroke="#fff" stroke-width="5.5" fill="none" stroke-linecap="butt" stroke-linejoin="round"/>
<path d="M690 401 C675 395 663 388 655 393 C646 398 641 410 639 425 C636 455 634 480 634 500 C634 520 638 535 650 540 C670 548 700 553 720 562 C734 570 735 585 722 598 C710 608 690 612 666 623" stroke="#444" stroke-width="7.5" fill="none" stroke-linecap="butt" stroke-linejoin="round"/>
<path d="M690 401 C675 395 663 388 655 393 C646 398 641 410 639 425 C636 455 634 480 634 500 C634 520 638 535 650 540 C670 548 700 553 720 562 C734 570 735 585 722 598 C710 608 690 612 666 623" stroke="#fff" stroke-width="5.5" fill="none" stroke-linecap="butt" stroke-linejoin="round"/>
<path d="M686 409 C675 404 666 399 660 403 C652 408 648 420 646 435 C643 460 641 485 641 505 C641 522 645 532 660 537 C685 545 710 550 728 558 C742 568 744 590 730 604 C715 616 690 624 666 636" stroke="#444" stroke-width="7.5" fill="none" stroke-linecap="butt" stroke-linejoin="round"/>
<path d="M686 409 C675 404 666 399 660 403 C652 408 648 420 646 435 C643 460 641 485 641 505 C641 522 645 532 660 537 C685 545 710 550 728 558 C742 568 744 590 730 604 C715 616 690 624 666 636" stroke="#fff" stroke-width="5.5" fill="none" stroke-linecap="butt" stroke-linejoin="round"/>
<g transform="translate(689 390) rotate(28)"><rect x="-7" y="-4.5" width="13" height="9" rx="2" stroke="#111" stroke-width="1.1" fill="#fff"/><ellipse cx="6" cy="0" rx="1.8" ry="4.5" stroke="#111" stroke-width="1.1" fill="#fff"/><line x1="-1" y1="-4.5" x2="-1" y2="4.5" stroke="#111"/><line x1="2" y1="-4.5" x2="2" y2="4.5" stroke="#111"/></g>
<g transform="translate(679 395) rotate(28)"><rect x="-7" y="-4.5" width="13" height="9" rx="2" stroke="#111" stroke-width="1.1" fill="#fff"/><ellipse cx="6" cy="0" rx="1.8" ry="4.5" stroke="#111" stroke-width="1.1" fill="#fff"/><line x1="-1" y1="-4.5" x2="-1" y2="4.5" stroke="#111"/><line x1="2" y1="-4.5" x2="2" y2="4.5" stroke="#111"/></g>
<g transform="translate(696 404) rotate(28)"><rect x="-7" y="-4.5" width="13" height="9" rx="2" stroke="#111" stroke-width="1.1" fill="#fff"/><ellipse cx="6" cy="0" rx="1.8" ry="4.5" stroke="#111" stroke-width="1.1" fill="#fff"/><line x1="-1" y1="-4.5" x2="-1" y2="4.5" stroke="#111"/><line x1="2" y1="-4.5" x2="2" y2="4.5" stroke="#111"/></g>
<g transform="translate(686 409) rotate(28)"><rect x="-7" y="-4.5" width="13" height="9" rx="2" stroke="#111" stroke-width="1.1" fill="#fff"/><ellipse cx="6" cy="0" rx="1.8" ry="4.5" stroke="#111" stroke-width="1.1" fill="#fff"/><line x1="-1" y1="-4.5" x2="-1" y2="4.5" stroke="#111"/><line x1="2" y1="-4.5" x2="2" y2="4.5" stroke="#111"/></g>
<g transform="translate(556 566) rotate(-30)"><rect x="-7" y="-4.5" width="12" height="9" rx="2" stroke="#111" stroke-width="1.1" fill="#fff"/><ellipse cx="-7" cy="0" rx="2" ry="4.5" stroke="#111" stroke-width="1.1" fill="#fff"/><line x1="-2" y1="-4.5" x2="-2" y2="4.5" stroke="#111"/><line x1="1" y1="-4.5" x2="1" y2="4.5" stroke="#111"/><rect x="5" y="-3.8" width="8" height="7.6" stroke="#222" stroke-width="0.9" fill="#fff"/></g>
<g transform="translate(556 579) rotate(-30)"><rect x="-7" y="-4.5" width="12" height="9" rx="2" stroke="#111" stroke-width="1.1" fill="#fff"/><ellipse cx="-7" cy="0" rx="2" ry="4.5" stroke="#111" stroke-width="1.1" fill="#fff"/><line x1="-2" y1="-4.5" x2="-2" y2="4.5" stroke="#111"/><line x1="1" y1="-4.5" x2="1" y2="4.5" stroke="#111"/><rect x="5" y="-3.8" width="8" height="7.6" stroke="#222" stroke-width="0.9" fill="#fff"/></g>
<g transform="translate(659 625) rotate(-25)"><rect x="-7" y="-4.5" width="12" height="9" rx="2" stroke="#111" stroke-width="1.1" fill="#fff"/><ellipse cx="-7" cy="0" rx="2" ry="4.5" stroke="#111" stroke-width="1.1" fill="#fff"/><line x1="-2" y1="-4.5" x2="-2" y2="4.5" stroke="#111"/><line x1="1" y1="-4.5" x2="1" y2="4.5" stroke="#111"/><rect x="5" y="-3.8" width="8" height="7.6" stroke="#222" stroke-width="0.9" fill="#fff"/></g>
<g transform="translate(659 638) rotate(-25)"><rect x="-7" y="-4.5" width="12" height="9" rx="2" stroke="#111" stroke-width="1.1" fill="#fff"/><ellipse cx="-7" cy="0" rx="2" ry="4.5" stroke="#111" stroke-width="1.1" fill="#fff"/><line x1="-2" y1="-4.5" x2="-2" y2="4.5" stroke="#111"/><line x1="1" y1="-4.5" x2="1" y2="4.5" stroke="#111"/><rect x="5" y="-3.8" width="8" height="7.6" stroke="#222" stroke-width="0.9" fill="#fff"/></g>
<path d="M617 529 C620 543 628 556 635 553 C641 550 642 540 638 531" stroke="#222" stroke-width="2.2" fill="none" />
<path d="M617 529 C620 543 628 556 635 553 C641 550 642 540 638 531" stroke="#fff" stroke-width="0.8" fill="none" />
<path d="M615 528 L658 509" stroke="#444" stroke-width="3.2" fill="none" stroke-linecap="butt" stroke-linejoin="round"/>
<path d="M615 528 L658 509" stroke="#fff" stroke-width="1.4000000000000001" fill="none" stroke-linecap="butt" stroke-linejoin="round"/>
<g transform="translate(660 508) rotate(-24)"><rect x="-3" y="-2.2" width="6" height="4.4" stroke="#111" stroke-width="1" fill="#fff"/></g>
<path d="M612 526 l5 2 M612 531 l5 -1" stroke="#111" stroke-width="1" fill="none" />
<path d="M551 438 L568 446" stroke="#444" stroke-width="3" fill="none" stroke-linecap="butt" stroke-linejoin="round"/>
<path d="M551 438 L568 446" stroke="#fff" stroke-width="1.2" fill="none" stroke-linecap="butt" stroke-linejoin="round"/>
<ellipse cx="550.5" cy="437.5" rx="1.5" ry="2.2" transform="rotate(20 550.5 437.5)" stroke="#222" stroke-width="0.9" fill="#fff"/>
<polygon points="566.0,449.0 578.0,444.0 579.0,452.0 567.0,457.0" stroke="#111" stroke-width="1" fill="#fff"/>
<circle cx="572" cy="451" r="0.8" stroke="#111" stroke-width="0.8" fill="#111"/>
<path d="M583 458 L584 464 L592 466 L597 462 L596 456 L588 454 Z M586 456 L592 458 L592 463" stroke="#111" stroke-width="1" fill="#fff" />
<path d="M677 506 L690 503 L694 508 L694 516 L681 520 L677 515 Z" stroke="#111" stroke-width="1" fill="#fff" />
<path d="M682 510 l3 3 l3 -4 l3 3" stroke="#111" stroke-width="1" fill="none" />
<path d="M683 568 L690 568 L692 574 L690 588 L684 588 L682 580 Z" stroke="#111" stroke-width="1" fill="#fff" />
<path d="M685 576 l4 2 l-1 5" stroke="#111" stroke-width="1" fill="none" />
<path d="M796 516 L811 508" stroke="#444" stroke-width="3" fill="none" stroke-linecap="butt" stroke-linejoin="round"/>
<path d="M796 516 L811 508" stroke="#fff" stroke-width="1.2" fill="none" stroke-linecap="butt" stroke-linejoin="round"/>
<ellipse cx="811.5" cy="507.8" rx="1.5" ry="2.2" transform="rotate(20 811.5 507.8)" stroke="#222" stroke-width="0.9" fill="#fff"/>
<polygon points="785.0,515.0 790.0,513.0 791.0,531.0 786.0,533.0" stroke="#111" stroke-width="1" fill="#fff"/>
<path d="M756 530 L764 528 L766 534 L762 538 L765 546 L758 550 L754 544 L756 537 Z" stroke="#111" stroke-width="1" fill="#fff" />
<path d="M766.0 537.0 L785.0 525.0" stroke="#444" stroke-width="0.8" fill="none"/>
<path d="M872 722 C871 735 866 752 858 770 C852 784 850 800 849 818 C848 838 844 852 832 862 C820 872 800 878 782 881 C770 883 765 884 760 886 C730 900 705 918 684 924 C675 924 668 919 660 916 C652 913 645 915 640 922 C632 935 628 955 625 983 L623 1023" stroke="#444" stroke-width="8.5" fill="none" stroke-linecap="butt" stroke-linejoin="round"/>
<path d="M872 722 C871 735 866 752 858 770 C852 784 850 800 849 818 C848 838 844 852 832 862 C820 872 800 878 782 881 C770 883 765 884 760 886 C730 900 705 918 684 924 C675 924 668 919 660 916 C652 913 645 915 640 922 C632 935 628 955 625 983 L623 1023" stroke="#fff" stroke-width="6.5" fill="none" stroke-linecap="butt" stroke-linejoin="round"/>
<path d="M884 724 C883 738 878 756 869 776 C863 790 860 805 859 822 C858 842 853 858 842 868 C830 880 808 886 786 889 C775 891 770 892 765 893 C735 906 705 928 690 930 C678 931 670 926 662 923 C655 922 650 925 645 932 C638 945 635 965 634 990 L634 1020" stroke="#444" stroke-width="8.5" fill="none" stroke-linecap="butt" stroke-linejoin="round"/>
<path d="M884 724 C883 738 878 756 869 776 C863 790 860 805 859 822 C858 842 853 858 842 868 C830 880 808 886 786 889 C775 891 770 892 765 893 C735 906 705 928 690 930 C678 931 670 926 662 923 C655 922 650 925 645 932 C638 945 635 965 634 990 L634 1020" stroke="#fff" stroke-width="6.5" fill="none" stroke-linecap="butt" stroke-linejoin="round"/>
<path d="M922 817 C920 830 918 845 914 858 C909 875 900 892 889 905" stroke="#444" stroke-width="18" fill="none" stroke-linecap="butt" stroke-linejoin="round"/>
<path d="M922 817 C920 830 918 845 914 858 C909 875 900 892 889 905" stroke="#fff" stroke-width="15.8" fill="none" stroke-linecap="butt" stroke-linejoin="round"/>
<ellipse cx="922" cy="816.5" rx="9.5" ry="3" transform="rotate(-5 922 816.5)" stroke="#111" stroke-width="1.1" fill="#fff"/>
<ellipse cx="889" cy="905.5" rx="8.5" ry="3.5" transform="rotate(30 889 905.5)" stroke="#111" stroke-width="1.1" fill="#fff"/>
<path d="M897 912 C885 922 872 930 862 936 C848 946 830 958 812 972 C798 982 785 993 772 1004" stroke="#444" stroke-width="7" fill="none" stroke-linecap="butt" stroke-linejoin="round"/>
<path d="M897 912 C885 922 872 930 862 936 C848 946 830 958 812 972 C798 982 785 993 772 1004" stroke="#fff" stroke-width="5" fill="none" stroke-linecap="butt" stroke-linejoin="round"/>
<path d="M884 909 C872 917 858 926 846 936 L836 945" stroke="#444" stroke-width="8" fill="none" stroke-linecap="butt" stroke-linejoin="round"/>
<path d="M884 909 C872 917 858 926 846 936 L836 945" stroke="#fff" stroke-width="6" fill="none" stroke-linecap="butt" stroke-linejoin="round"/>
<g transform="translate(831 949) rotate(-38)"><rect x="-6.5" y="-3.75" width="13" height="7.5" rx="1.5" stroke="#111" stroke-width="1.1" fill="#fff"/><line x1="-2.1666666666666665" y1="-3.75" x2="-2.1666666666666665" y2="3.75" stroke="#111"/><line x1="2.1666666666666665" y1="-3.75" x2="2.1666666666666665" y2="3.75" stroke="#111"/><line x1="-6.5" y1="-1.25" x2="6.5" y2="-1.25" stroke="#333" stroke-width="0.7"/><line x1="-6.5" y1="1.25" x2="6.5" y2="1.25" stroke="#333" stroke-width="0.7"/></g>
<g transform="translate(769 1005) rotate(-38)"><rect x="-6.5" y="-3.5" width="13" height="7" rx="1.5" stroke="#111" stroke-width="1.1" fill="#fff"/><line x1="-2.1666666666666665" y1="-3.5" x2="-2.1666666666666665" y2="3.5" stroke="#111"/><line x1="2.1666666666666665" y1="-3.5" x2="2.1666666666666665" y2="3.5" stroke="#111"/><line x1="-6.5" y1="-1.1666666666666667" x2="6.5" y2="-1.1666666666666667" stroke="#333" stroke-width="0.7"/><line x1="-6.5" y1="1.1666666666666667" x2="6.5" y2="1.1666666666666667" stroke="#333" stroke-width="0.7"/></g>
<path d="M923 778 L921 815" stroke="#444" stroke-width="6" fill="none" stroke-linecap="butt" stroke-linejoin="round"/>
<path d="M923 778 L921 815" stroke="#fff" stroke-width="4" fill="none" stroke-linecap="butt" stroke-linejoin="round"/>
<path d="M934 776 L932 815" stroke="#444" stroke-width="6" fill="none" stroke-linecap="butt" stroke-linejoin="round"/>
<path d="M934 776 L932 815" stroke="#fff" stroke-width="4" fill="none" stroke-linecap="butt" stroke-linejoin="round"/>
<g transform="translate(858 781) rotate(-8)"><ellipse cx="0" cy="0" rx="7" ry="3.5" stroke="#111" stroke-width="1.1" fill="none"/><ellipse cx="0" cy="0" rx="5" ry="2.0" stroke="#333" stroke-width="0.8" fill="none"/><path d="M6 -2 l6 -1 l1 3 l-6 2" stroke="#111" stroke-width="1" fill="#fff"/></g>
<g transform="translate(815 875) rotate(25)"><ellipse cx="0" cy="0" rx="4.5" ry="8" stroke="#111" stroke-width="1.1" fill="none"/><ellipse cx="0" cy="0" rx="2.5" ry="6.5" stroke="#333" stroke-width="0.8" fill="none"/><path d="M3.5 -2 l6 -1 l1 3 l-6 2" stroke="#111" stroke-width="1" fill="#fff"/></g>
<g transform="translate(767 882) rotate(25)"><ellipse cx="0" cy="0" rx="4.5" ry="7.5" stroke="#111" stroke-width="1.1" fill="none"/><ellipse cx="0" cy="0" rx="2.5" ry="6.0" stroke="#333" stroke-width="0.8" fill="none"/><path d="M3.5 -2 l6 -1 l1 3 l-6 2" stroke="#111" stroke-width="1" fill="#fff"/></g>
<g transform="translate(696 916) rotate(15)"><ellipse cx="0" cy="0" rx="4.5" ry="7.5" stroke="#111" stroke-width="1.1" fill="none"/><ellipse cx="0" cy="0" rx="2.5" ry="6.0" stroke="#333" stroke-width="0.8" fill="none"/><path d="M3.5 -2 l6 -1 l1 3 l-6 2" stroke="#111" stroke-width="1" fill="#fff"/></g>
<g transform="translate(628 987) rotate(-5)"><ellipse cx="0" cy="0" rx="11" ry="5" stroke="#111" stroke-width="1.1" fill="none"/><ellipse cx="0" cy="0" rx="9" ry="3.5" stroke="#333" stroke-width="0.8" fill="none"/><path d="M10 -2 l6 -1 l1 3 l-6 2" stroke="#111" stroke-width="1" fill="#fff"/></g>
<g transform="translate(922 806) rotate(8)"><ellipse cx="0" cy="0" rx="17" ry="5.5" stroke="#111" stroke-width="1.1" fill="none"/><ellipse cx="0" cy="0" rx="15" ry="4.0" stroke="#333" stroke-width="0.8" fill="none"/><path d="M16 -2 l6 -1 l1 3 l-6 2" stroke="#111" stroke-width="1" fill="#fff"/></g>
<g transform="translate(856 934) rotate(30)"><ellipse cx="0" cy="0" rx="4.5" ry="7.5" stroke="#111" stroke-width="1.1" fill="none"/><ellipse cx="0" cy="0" rx="2.5" ry="6.0" stroke="#333" stroke-width="0.8" fill="none"/><path d="M3.5 -2 l6 -1 l1 3 l-6 2" stroke="#111" stroke-width="1" fill="#fff"/></g>
<ellipse cx="874.8" cy="644.4" rx="3.2" ry="1.8" transform="rotate(0 874.8 644.4)" stroke="#111" stroke-width="1.1" fill="none"/>
<ellipse cx="886" cy="650" rx="3.2" ry="1.8" transform="rotate(0 886 650)" stroke="#111" stroke-width="1.1" fill="none"/>
<g transform="translate(875 668) rotate(90)"><rect x="-7.0" y="-3.5" width="14" height="7" rx="1.5" stroke="#111" stroke-width="1.1" fill="#fff"/><line x1="-2.3333333333333335" y1="-3.5" x2="-2.3333333333333335" y2="3.5" stroke="#111"/><line x1="2.3333333333333335" y1="-3.5" x2="2.3333333333333335" y2="3.5" stroke="#111"/><line x1="-7.0" y1="-1.1666666666666667" x2="7.0" y2="-1.1666666666666667" stroke="#333" stroke-width="0.7"/><line x1="-7.0" y1="1.1666666666666667" x2="7.0" y2="1.1666666666666667" stroke="#333" stroke-width="0.7"/></g>
<g transform="translate(886 672) rotate(90)"><rect x="-7.0" y="-3.5" width="14" height="7" rx="1.5" stroke="#111" stroke-width="1.1" fill="#fff"/><line x1="-2.3333333333333335" y1="-3.5" x2="-2.3333333333333335" y2="3.5" stroke="#111"/><line x1="2.3333333333333335" y1="-3.5" x2="2.3333333333333335" y2="3.5" stroke="#111"/><line x1="-7.0" y1="-1.1666666666666667" x2="7.0" y2="-1.1666666666666667" stroke="#333" stroke-width="0.7"/><line x1="-7.0" y1="1.1666666666666667" x2="7.0" y2="1.1666666666666667" stroke="#333" stroke-width="0.7"/></g>
<ellipse cx="873.5" cy="696.6" rx="2" ry="1.2" transform="rotate(0 873.5 696.6)" stroke="#111" stroke-width="1" fill="#333"/>
<ellipse cx="885" cy="700" rx="2" ry="1.2" transform="rotate(0 885 700)" stroke="#111" stroke-width="1" fill="#333"/>
<g transform="translate(873 716) rotate(95)"><rect x="-6.0" y="-3.5" width="12" height="7" rx="1.5" stroke="#111" stroke-width="1.1" fill="#fff"/><line x1="-2.0" y1="-3.5" x2="-2.0" y2="3.5" stroke="#111"/><line x1="2.0" y1="-3.5" x2="2.0" y2="3.5" stroke="#111"/><line x1="-6.0" y1="-1.1666666666666667" x2="6.0" y2="-1.1666666666666667" stroke="#333" stroke-width="0.7"/><line x1="-6.0" y1="1.1666666666666667" x2="6.0" y2="1.1666666666666667" stroke="#333" stroke-width="0.7"/></g>
<g transform="translate(884 720) rotate(95)"><rect x="-6.0" y="-3.5" width="12" height="7" rx="1.5" stroke="#111" stroke-width="1.1" fill="#fff"/><line x1="-2.0" y1="-3.5" x2="-2.0" y2="3.5" stroke="#111"/><line x1="2.0" y1="-3.5" x2="2.0" y2="3.5" stroke="#111"/><line x1="-6.0" y1="-1.1666666666666667" x2="6.0" y2="-1.1666666666666667" stroke="#333" stroke-width="0.7"/><line x1="-6.0" y1="1.1666666666666667" x2="6.0" y2="1.1666666666666667" stroke="#333" stroke-width="0.7"/></g>
<ellipse cx="930" cy="707" rx="3" ry="1.8" transform="rotate(0 930 707)" stroke="#111" stroke-width="1.1" fill="none"/>
<ellipse cx="940" cy="705" rx="3" ry="1.8" transform="rotate(0 940 705)" stroke="#111" stroke-width="1.1" fill="none"/>
<g transform="translate(927 733) rotate(95)"><rect x="-7.0" y="-3.5" width="14" height="7" rx="1.5" stroke="#111" stroke-width="1.1" fill="#fff"/><line x1="-2.3333333333333335" y1="-3.5" x2="-2.3333333333333335" y2="3.5" stroke="#111"/><line x1="2.3333333333333335" y1="-3.5" x2="2.3333333333333335" y2="3.5" stroke="#111"/><line x1="-7.0" y1="-1.1666666666666667" x2="7.0" y2="-1.1666666666666667" stroke="#333" stroke-width="0.7"/><line x1="-7.0" y1="1.1666666666666667" x2="7.0" y2="1.1666666666666667" stroke="#333" stroke-width="0.7"/></g>
<g transform="translate(937 730) rotate(95)"><rect x="-7.0" y="-3.5" width="14" height="7" rx="1.5" stroke="#111" stroke-width="1.1" fill="#fff"/><line x1="-2.3333333333333335" y1="-3.5" x2="-2.3333333333333335" y2="3.5" stroke="#111"/><line x1="2.3333333333333335" y1="-3.5" x2="2.3333333333333335" y2="3.5" stroke="#111"/><line x1="-7.0" y1="-1.1666666666666667" x2="7.0" y2="-1.1666666666666667" stroke="#333" stroke-width="0.7"/><line x1="-7.0" y1="1.1666666666666667" x2="7.0" y2="1.1666666666666667" stroke="#333" stroke-width="0.7"/></g>
<ellipse cx="926" cy="755" rx="2" ry="1.2" transform="rotate(0 926 755)" stroke="#111" stroke-width="1" fill="#333"/>
<ellipse cx="936" cy="752" rx="2" ry="1.2" transform="rotate(0 936 752)" stroke="#111" stroke-width="1" fill="#333"/>
<g transform="translate(923 774) rotate(95)"><rect x="-6.0" y="-3.5" width="12" height="7" rx="1.5" stroke="#111" stroke-width="1.1" fill="#fff"/><line x1="-2.0" y1="-3.5" x2="-2.0" y2="3.5" stroke="#111"/><line x1="2.0" y1="-3.5" x2="2.0" y2="3.5" stroke="#111"/><line x1="-6.0" y1="-1.1666666666666667" x2="6.0" y2="-1.1666666666666667" stroke="#333" stroke-width="0.7"/><line x1="-6.0" y1="1.1666666666666667" x2="6.0" y2="1.1666666666666667" stroke="#333" stroke-width="0.7"/></g>
<g transform="translate(934 772) rotate(95)"><rect x="-6.0" y="-3.5" width="12" height="7" rx="1.5" stroke="#111" stroke-width="1.1" fill="#fff"/><line x1="-2.0" y1="-3.5" x2="-2.0" y2="3.5" stroke="#111"/><line x1="2.0" y1="-3.5" x2="2.0" y2="3.5" stroke="#111"/><line x1="-6.0" y1="-1.1666666666666667" x2="6.0" y2="-1.1666666666666667" stroke="#333" stroke-width="0.7"/><line x1="-6.0" y1="1.1666666666666667" x2="6.0" y2="1.1666666666666667" stroke="#333" stroke-width="0.7"/></g>
<g transform="translate(624 1023) rotate(95)"><rect x="-6.0" y="-3.5" width="12" height="7" rx="1.5" stroke="#111" stroke-width="1.1" fill="#fff"/><line x1="-2.0" y1="-3.5" x2="-2.0" y2="3.5" stroke="#111"/><line x1="2.0" y1="-3.5" x2="2.0" y2="3.5" stroke="#111"/><line x1="-6.0" y1="-1.1666666666666667" x2="6.0" y2="-1.1666666666666667" stroke="#333" stroke-width="0.7"/><line x1="-6.0" y1="1.1666666666666667" x2="6.0" y2="1.1666666666666667" stroke="#333" stroke-width="0.7"/></g>
<g transform="translate(634 1020) rotate(95)"><rect x="-6.0" y="-3.5" width="12" height="7" rx="1.5" stroke="#111" stroke-width="1.1" fill="#fff"/><line x1="-2.0" y1="-3.5" x2="-2.0" y2="3.5" stroke="#111"/><line x1="2.0" y1="-3.5" x2="2.0" y2="3.5" stroke="#111"/><line x1="-6.0" y1="-1.1666666666666667" x2="6.0" y2="-1.1666666666666667" stroke="#333" stroke-width="0.7"/><line x1="-6.0" y1="1.1666666666666667" x2="6.0" y2="1.1666666666666667" stroke="#333" stroke-width="0.7"/></g>
<ellipse cx="624" cy="1045" rx="2.2" ry="1.4" transform="rotate(0 624 1045)" stroke="#111" stroke-width="1" fill="none"/>
<ellipse cx="634" cy="1040" rx="2.2" ry="1.4" transform="rotate(0 634 1040)" stroke="#111" stroke-width="1" fill="none"/>
<g transform="translate(624 1062) rotate(92)"><rect x="-6.0" y="-4.0" width="12" height="8" rx="1.5" stroke="#111" stroke-width="1.1" fill="#fff"/><line x1="-2.0" y1="-4.0" x2="-2.0" y2="4.0" stroke="#111"/><line x1="2.0" y1="-4.0" x2="2.0" y2="4.0" stroke="#111"/><line x1="-6.0" y1="-1.3333333333333333" x2="6.0" y2="-1.3333333333333333" stroke="#333" stroke-width="0.7"/><line x1="-6.0" y1="1.3333333333333333" x2="6.0" y2="1.3333333333333333" stroke="#333" stroke-width="0.7"/></g>
<g transform="translate(634 1057) rotate(92)"><rect x="-6.0" y="-4.0" width="12" height="8" rx="1.5" stroke="#111" stroke-width="1.1" fill="#fff"/><line x1="-2.0" y1="-4.0" x2="-2.0" y2="4.0" stroke="#111"/><line x1="2.0" y1="-4.0" x2="2.0" y2="4.0" stroke="#111"/><line x1="-6.0" y1="-1.3333333333333333" x2="6.0" y2="-1.3333333333333333" stroke="#333" stroke-width="0.7"/><line x1="-6.0" y1="1.3333333333333333" x2="6.0" y2="1.3333333333333333" stroke="#333" stroke-width="0.7"/></g>
<ellipse cx="624" cy="1075" rx="3" ry="1.8" transform="rotate(0 624 1075)" stroke="#111" stroke-width="1.1" fill="none"/>
<ellipse cx="634" cy="1071" rx="3" ry="1.8" transform="rotate(0 634 1071)" stroke="#111" stroke-width="1.1" fill="none"/>
<path d="M624.0 1030.0 L624.0 1090.0" stroke="#333" stroke-width="0.8" fill="none"/>
<path d="M634.0 1026.0 L634.0 1090.0" stroke="#333" stroke-width="0.8" fill="none"/>
<path d="M362.0 1098.0 L362.0 1345.0" stroke="#444" stroke-width="0.9" fill="none" stroke-dasharray="14 4"/>
<path d="M371.5 1098.0 L371.5 1248.0" stroke="#333" stroke-width="0.9" fill="none"/>
<path d="M337 1035.1 C345 1030 352 1027 355 1026.4 C365 1025 372 1025 377.7 1025.5 L378.6 1026.8 L377.7 1032.5 L378.2 1062.2 C382 1066 386 1068 391.7 1070 L400.4 1049.1 L413.6 1046 L416.2 1050 L415.3 1058.7 L403 1071 L402.2 1071.8 C402 1080 400 1086 398.7 1089.3 C394 1094 390 1095 390 1095.4 C384 1097 378 1098 372.5 1098 C366 1098 362 1098 359.3 1097.2 C354 1095 350 1092 348.9 1089.3 C347 1083 346.5 1080 346.2 1076.2 L345.4 1067.5 L344.5 1050 L337.5 1037.7 Z" stroke="#111" stroke-width="1.1" fill="#fff" />
<path d="M345.4 1040.4 C350 1036 355 1034 359.3 1033.4 C366 1032.5 372 1032 377.3 1032" stroke="#111" stroke-width="1.1" fill="none" />
<path d="M391.7 1070 L391 1087 L368 1093" stroke="#111" stroke-width="1" fill="none" />
<path d="M400.4 1049.1 C398 1056 396 1062 391.7 1069.2" stroke="#111" stroke-width="1" fill="none" />
<ellipse cx="371.6" cy="1082.8" rx="13.1" ry="7" transform="rotate(0 371.6 1082.8)" stroke="#111" stroke-width="1.1" fill="#fff"/>
<ellipse cx="371.6" cy="1082" rx="11.5" ry="5.8" transform="rotate(0 371.6 1082)" stroke="#333" stroke-width="0.8" fill="none"/>
<circle cx="343.5" cy="1034.5" r="1.3" stroke="#222" stroke-width="0.8" fill="#fff"/>
<circle cx="361" cy="1028.5" r="1.3" stroke="#222" stroke-width="0.8" fill="#fff"/>
<circle cx="371.6" cy="1028" r="1.3" stroke="#222" stroke-width="0.8" fill="#fff"/>
<circle cx="411" cy="1050.5" r="1.3" stroke="#222" stroke-width="0.8" fill="#fff"/>
<circle cx="410" cy="1060" r="1.3" stroke="#222" stroke-width="0.8" fill="#fff"/>
<circle cx="400.5" cy="1067" r="1.3" stroke="#222" stroke-width="0.8" fill="#fff"/>
<circle cx="381" cy="1075" r="1.3" stroke="#222" stroke-width="0.8" fill="#fff"/>
<circle cx="362" cy="1091" r="1.3" stroke="#222" stroke-width="0.8" fill="#fff"/>
<path d="M342.7 1051.7 C341 1056 343 1060 346.2 1061.3 C352 1064 356 1065 359.3 1064.8 C365 1064 369 1062 372.5 1060.5 C377 1058 380 1055 383 1053.5 L386 1050" stroke="#111" stroke-width="1.8" fill="none" />
<path d="M342.7 1051.7 C341 1056 343 1060 346.2 1061.3 C352 1064 356 1065 359.3 1064.8 C365 1064 369 1062 372.5 1060.5 C377 1058 380 1055 383 1053.5 L386 1050" stroke="#fff" stroke-width="0.6" fill="none" />
<path d="M382 1054 l4 -5 l2 2 l-3 5 Z" stroke="#111" stroke-width="1" fill="#fff" />
<path d="M371.7 1018.0 L371.7 1090.0" stroke="#444" stroke-width="0.9" fill="none" stroke-dasharray="12 3 3 3"/>
<path d="M361.3 1123.5 L361.3 1131 L364 1134.5 L380 1134.5 L381.8 1131 L381.8 1123.5 Z" stroke="#111" stroke-width="1.1" fill="#fff" />
<ellipse cx="372" cy="1123.5" rx="10.2" ry="4" transform="rotate(0 372 1123.5)" stroke="#111" stroke-width="1.1" fill="#fff"/>
<ellipse cx="372" cy="1119.1" rx="7.5" ry="4" transform="rotate(0 372 1119.1)" stroke="#111" stroke-width="1.1" fill="#fff"/>
<ellipse cx="372" cy="1119.1" rx="4" ry="2.2" transform="rotate(0 372 1119.1)" stroke="#111" stroke-width="1" fill="#fff"/>
<path d="M364.5 1123.5 L364.5 1119 M379.5 1123.5 L379.5 1119" stroke="#111" stroke-width="1.1" fill="none" />
<path d="M370.4 1134.5 L370.4 1138.5 L375 1138.5 L375 1134.5 M372 1138.5 L372 1162" stroke="#111" stroke-width="1" fill="none" />
<circle cx="385.6" cy="1111.6" r="1.4" stroke="#111" stroke-width="0.8" fill="#111"/>
<ellipse cx="392.6" cy="1125.6" rx="1.6" ry="1.2" transform="rotate(0 392.6 1125.6)" stroke="#111" stroke-width="0.9" fill="none"/>
<path d="M380.0 1118.0 L385.6 1111.6" stroke="#333" stroke-width="0.8" fill="none"/>
<path d="M382.0 1125.6 L391.0 1125.6" stroke="#333" stroke-width="0.8" fill="none"/>
<rect x="372" y="1146.4" width="3.5" height="13" rx="1" stroke="#111" stroke-width="1" fill="#fff"/>
<path d="M362 1171 C361 1167 365 1166 367 1168 C368 1165 372 1165 373 1168 C375 1166 379 1166 380 1169 C383 1169 384 1173 381 1175 C383 1178 381 1182 378 1181 C377 1184 373 1184 372 1181 C370 1183 366 1183 366 1180 C362 1180 361 1176 363 1175 C361 1174 361 1172 362 1171 Z" stroke="#111" stroke-width="1.1" fill="#fff" />
<path d="M366 1172 l3 2 M376 1171 l-2 3 M371 1176 l1 3 M368 1177 l-1 2" stroke="#111" stroke-width="1" fill="none" />
<rect x="368.4" y="1192.3" width="2.8" height="10.3" stroke="#333" stroke-width="0.8" fill="#fff"/>
<path d="M361 1215 C360 1211 364 1209 366 1211 C367 1208 371 1208 372 1210 C374 1208 378 1208 379 1211 C382 1210 383 1214 382 1217 C383 1220 381 1223 378 1223 L365 1223 C362 1222 360 1219 361 1215 Z" stroke="#111" stroke-width="1.1" fill="#fff" />
<path d="M364 1223 L364 1230 C366 1234 378 1234 380.7 1230 L380.7 1223" stroke="#111" stroke-width="1.1" fill="#fff" />
<path d="M368 1218 l4 -3 l0 6 Z" stroke="#111" stroke-width="1" fill="none" />
<circle cx="369" cy="1217.5" r="1" stroke="#111" stroke-width="0.8" fill="#111"/>
<circle cx="341" cy="1213.3" r="1.4" stroke="#111" stroke-width="0.8" fill="#111"/>
<path d="M341.0 1213.3 L362.0 1219.0" stroke="#333" stroke-width="0.8" fill="none"/>
<rect x="368.2" y="1242.4" width="6.7" height="13.4" stroke="#111" stroke-width="1.1" fill="#fff"/>
<ellipse cx="371.5" cy="1242.4" rx="3.3" ry="1.3" transform="rotate(0 371.5 1242.4)" stroke="#111" stroke-width="1" fill="#fff"/>
<path d="M359.6 1270 L359.6 1301.5 L375.9 1306.3 L390.2 1302.5 L392.5 1296.8 L392.5 1257.7" stroke="#111" stroke-width="1.1" fill="#fff" />
<path d="M355.8 1265.3 L358.7 1253.8 L369.2 1248 L387.3 1249 L391.1 1254.8 L392.1 1266.2 L385.4 1270 L375.9 1271 L358.7 1268.2 Z" stroke="#111" stroke-width="1.1" fill="#fff" />
<path d="M362 1258 C366 1252 380 1251 386 1256 C384 1262 370 1264 362 1260 Z" stroke="#111" stroke-width="1" fill="#fff" />
<path d="M358 1262 l3 2 M387 1252 l3 3 M365 1266 l2 -2 M380 1268 l2 -2 M370 1256 l0 4 M376 1256 l0 4" stroke="#111" stroke-width="1.1" fill="none" />
<ellipse cx="371.5" cy="1256" rx="4" ry="2" transform="rotate(0 371.5 1256)" stroke="#111" stroke-width="1" fill="#fff"/>
<path d="M375.4 1271 L375.4 1305" stroke="#333" stroke-width="0.9" fill="none" />
<ellipse cx="368.7" cy="1277.7" rx="5" ry="6" transform="rotate(0 368.7 1277.7)" stroke="#111" stroke-width="1.1" fill="#fff"/>
<ellipse cx="368.7" cy="1277.7" rx="2.6" ry="3.2" transform="rotate(0 368.7 1277.7)" stroke="#111" stroke-width="1" fill="none"/>
<rect x="375.9" y="1306" width="4.7" height="3.2" stroke="#111" stroke-width="0.9" fill="#fff"/>
<path d="M362 1270 L362 1302" stroke="#444" stroke-width="1" fill="none" />
<path d="M359.6 1341 L364.5 1341 L364.5 1346 L363.5 1349.7 L360.6 1349.7 L359.6 1346 Z" stroke="#111" stroke-width="1" fill="#fff" />
<path d="M391.0 1258.0 L500.0 1166.0" stroke="#666" stroke-width="1" fill="none" stroke-dasharray="24 4.5 5 4.5"/>
<path d="M394.0 1274.0 L503.0 1183.0" stroke="#666" stroke-width="1" fill="none" stroke-dasharray="24 4.5 5 4.5"/>
<path d="M368.0 1278.0 L304.0 1331.0" stroke="#333" stroke-width="0.8" fill="none"/>
<path d="M189.0 1419.0 L121.0 1458.5" stroke="#333" stroke-width="0.8" fill="none"/>
<ellipse cx="343.9" cy="1296.8" rx="4" ry="4.6" transform="rotate(20 343.9 1296.8)" stroke="#111" stroke-width="1.3" fill="none"/>
<g transform="translate(320 1317.5) rotate(-40)"><rect x="-9" y="-7" width="10" height="14" rx="1" stroke="#111" stroke-width="1.1" fill="#fff"/><rect x="1" y="-8" width="7" height="16" rx="1" stroke="#111" stroke-width="1.1" fill="#fff"/><line x1="-5" y1="-7" x2="-5" y2="7" stroke="#111"/><line x1="4" y1="-8" x2="4" y2="8" stroke="#111"/><ellipse cx="-9" cy="0" rx="2.5" ry="6.5" stroke="#111" stroke-width="1.1" fill="#fff"/></g>
<ellipse cx="298" cy="1334.5" rx="7.5" ry="8.5" transform="rotate(-40 298 1334.5)" stroke="#111" stroke-width="1.2" fill="#fff"/>
<ellipse cx="298" cy="1334.5" rx="5.5" ry="6.5" transform="rotate(-40 298 1334.5)" stroke="#111" stroke-width="0.9" fill="none"/>
<path d="M298 1327 l5 -1 l1 3" stroke="#111" stroke-width="1.3" fill="none" />
<path d="M281.5 1347 C258 1372 222 1398 189 1419" stroke="#444" stroke-width="12.5" fill="none" stroke-linecap="butt" stroke-linejoin="round"/>
<path d="M281.5 1347 C258 1372 222 1398 189 1419" stroke="#fff" stroke-width="10.3" fill="none" stroke-linecap="butt" stroke-linejoin="round"/>
<ellipse cx="189" cy="1419" rx="4.5" ry="6.8" transform="rotate(-35 189 1419)" stroke="#111" stroke-width="1.1" fill="#fff"/>
<ellipse cx="189" cy="1419" rx="2.6" ry="4.3" transform="rotate(-35 189 1419)" stroke="#111" stroke-width="0.9" fill="none"/>
<ellipse cx="167.5" cy="1430" rx="6.5" ry="8" transform="rotate(-35 167.5 1430)" stroke="#111" stroke-width="1.2" fill="#fff"/>
<ellipse cx="167.5" cy="1430" rx="4.5" ry="6" transform="rotate(-35 167.5 1430)" stroke="#111" stroke-width="0.9" fill="none"/>
<path d="M166 1422 l5 -1 l1 3" stroke="#111" stroke-width="1.3" fill="none" />
<g transform="translate(142 1446.5) rotate(-32)"><rect x="-9" y="-6" width="9" height="12" rx="1" stroke="#111" stroke-width="1.1" fill="#fff"/><rect x="0" y="-7" width="8" height="14" rx="1" stroke="#111" stroke-width="1.1" fill="#fff"/><line x1="-5" y1="-6" x2="-5" y2="6" stroke="#111"/><line x1="4" y1="-7" x2="4" y2="7" stroke="#111"/><ellipse cx="-9" cy="0" rx="2.5" ry="4.5" stroke="#111" stroke-width="1.1" fill="#fff"/></g>
<ellipse cx="121.2" cy="1458.5" rx="3.3" ry="4" transform="rotate(20 121.2 1458.5)" stroke="#111" stroke-width="1.2" fill="none"/>
<g transform="translate(442 1105.5) rotate(25)"><path d="M-6 -3 C-6 -6 0 -6 2 -4 L3 4 C0 6 -6 5 -6 2 Z" stroke="#111" stroke-width="1.1" fill="#fff"/><path d="M-4 -1 C-3 -3 -1 -3 0 -2" stroke="#111" stroke-width="1" fill="none"/><rect x="3" y="-3" width="3" height="6" stroke="#111" stroke-width="1" fill="#fff"/></g>
<g transform="translate(440.5 1123) rotate(25)"><path d="M-6 -3 C-6 -6 0 -6 2 -4 L3 4 C0 6 -6 5 -6 2 Z" stroke="#111" stroke-width="1.1" fill="#fff"/><path d="M-4 -1 C-3 -3 -1 -3 0 -2" stroke="#111" stroke-width="1" fill="none"/><rect x="3" y="-3" width="3" height="6" stroke="#111" stroke-width="1" fill="#fff"/></g>
<g transform="translate(474 1117) rotate(22)"><rect x="-4" y="-5" width="9" height="10" rx="1.5" stroke="#111" stroke-width="1.1" fill="#fff"/><ellipse cx="5" cy="0" rx="1.8" ry="5" stroke="#111" stroke-width="1.1" fill="#fff"/><rect x="-8" y="-2" width="4" height="4" stroke="#111" stroke-width="0.9" fill="#fff"/></g>
<g transform="translate(472.5 1134.6) rotate(22)"><rect x="-4" y="-5" width="9" height="10" rx="1.5" stroke="#111" stroke-width="1.1" fill="#fff"/><ellipse cx="5" cy="0" rx="1.8" ry="5" stroke="#111" stroke-width="1.1" fill="#fff"/><rect x="-8" y="-2" width="4" height="4" stroke="#111" stroke-width="0.9" fill="#fff"/></g>
<path d="M447.0 1107.0 L566.0 1153.0" stroke="#333" stroke-width="0.8" fill="none"/>
<path d="M445.0 1125.0 L563.0 1171.0" stroke="#333" stroke-width="0.8" fill="none"/>
<ellipse cx="503" cy="1126.8" rx="1.4" ry="2" transform="rotate(20 503 1126.8)" stroke="#111" stroke-width="1" fill="none"/>
<ellipse cx="500.6" cy="1145.9" rx="1.4" ry="2" transform="rotate(20 500.6 1145.9)" stroke="#111" stroke-width="1" fill="none"/>
<ellipse cx="566" cy="1152.8" rx="1.4" ry="2" transform="rotate(20 566 1152.8)" stroke="#111" stroke-width="1" fill="none"/>
<ellipse cx="563" cy="1170.7" rx="1.4" ry="2" transform="rotate(20 563 1170.7)" stroke="#111" stroke-width="1" fill="none"/>
<g transform="translate(533 1142) rotate(22)"><rect x="-5" y="-4.5" width="13" height="9" rx="2" stroke="#111" stroke-width="1.1" fill="#fff"/><ellipse cx="8" cy="0" rx="2" ry="4.5" stroke="#111" stroke-width="1.1" fill="#fff"/><rect x="-6" y="2" width="7" height="6" stroke="#111" stroke-width="1.1" fill="#fff"/><ellipse cx="-2.5" cy="8" rx="3.5" ry="2" stroke="#111" stroke-width="1.1" fill="#fff"/><line x1="1" y1="-4.5" x2="1" y2="2" stroke="#111"/><circle cx="-2.5" cy="8" r="1.2" fill="#111"/></g>
<g transform="translate(531 1160) rotate(22)"><rect x="-5" y="-4.5" width="13" height="9" rx="2" stroke="#111" stroke-width="1.1" fill="#fff"/><ellipse cx="8" cy="0" rx="2" ry="4.5" stroke="#111" stroke-width="1.1" fill="#fff"/><rect x="-6" y="2" width="7" height="6" stroke="#111" stroke-width="1.1" fill="#fff"/><ellipse cx="-2.5" cy="8" rx="3.5" ry="2" stroke="#111" stroke-width="1.1" fill="#fff"/><line x1="1" y1="-4.5" x2="1" y2="2" stroke="#111"/><circle cx="-2.5" cy="8" r="1.2" fill="#111"/></g>
<ellipse cx="504.7" cy="1164.3" rx="3" ry="3.8" transform="rotate(20 504.7 1164.3)" stroke="#111" stroke-width="1.2" fill="none"/>
<ellipse cx="503.8" cy="1181.5" rx="2.3" ry="3" transform="rotate(20 503.8 1181.5)" stroke="#111" stroke-width="1.1" fill="none"/>
<path d="M606.8 1093 L613 1083 L630 1079 L647 1079 L649 1089 L640 1100 L620 1114 L609 1104 Z" stroke="#111" stroke-width="1.1" fill="#fff" />
<path d="M613 1083 L628 1090 L649 1089 M628 1090 L626 1108" stroke="#111" stroke-width="1" fill="none" />
<ellipse cx="606" cy="1103" rx="6" ry="9" transform="rotate(20 606 1103)" stroke="#111" stroke-width="1.1" fill="#fff"/>
<ellipse cx="606" cy="1103" rx="3" ry="5" transform="rotate(20 606 1103)" stroke="#111" stroke-width="0.9" fill="none"/>
<g transform="translate(603 1089) rotate(-25)"><rect x="-4" y="-5" width="8" height="10" stroke="#111" stroke-width="1" fill="#fff"/><path d="M-4 -3 H4 M-4 -1 H4 M-4 1 H4 M-4 3 H4" stroke="#111" stroke-width="1"/></g>
<ellipse cx="623.5" cy="1090" rx="2.5" ry="1.6" transform="rotate(0 623.5 1090)" stroke="#111" stroke-width="0.9" fill="#fff"/>
<ellipse cx="634.6" cy="1083.4" rx="2.5" ry="1.6" transform="rotate(0 634.6 1083.4)" stroke="#111" stroke-width="0.9" fill="#fff"/>
<g transform="translate(646 1116) rotate(35)"><path d="M-22 -18 L12 -18 C27 -18 29 -12 29 0 C29 12 27 18 12 18 L-22 18 Z" stroke="#111" stroke-width="1.2" fill="#fff"/></g>
<ellipse cx="675.8" cy="1144.1" rx="3" ry="2.6" transform="rotate(0 675.8 1144.1)" stroke="#111" stroke-width="1.1" fill="#fff"/>
<ellipse cx="675.8" cy="1144.1" rx="1.4" ry="1.2" transform="rotate(0 675.8 1144.1)" stroke="#111" stroke-width="0.8" fill="#444"/>
<path d="M664.0 1137.0 L692.0 1154.0" stroke="#333" stroke-width="0.8" fill="none"/>
<g transform="translate(697.5 1156.5) rotate(30)"><rect x="-7" y="-2.5" width="10" height="5" stroke="#111" stroke-width="1" fill="#fff"/><rect x="3" y="-3.8" width="5" height="7.6" rx="1" stroke="#111" stroke-width="1" fill="#fff"/></g>
<path d="M569.0 1154.0 L972.0 1317.0" stroke="#666" stroke-width="1" fill="none" stroke-dasharray="24 4.5 5 4.5"/>
<path d="M566.0 1172.0 L1056.0 1370.0" stroke="#666" stroke-width="1" fill="none" stroke-dasharray="24 4.5 5 4.5"/>
<path d="M1036 1130 L1054 1167 L1052 1172 L1013 1200 L1019 1225 L1010 1328 C1009 1333 1003 1334 1000 1332 L975 1319" stroke="#222" stroke-width="4" fill="none" />
<path d="M1036 1130 L1054 1167 L1052 1172 L1013 1200 L1019 1225 L1010 1328 C1009 1333 1003 1334 1000 1332 L975 1319" stroke="#fff" stroke-width="2" fill="none" />
<g transform="translate(972 1317) rotate(25)"><rect x="-4" y="-3.5" width="8" height="7" stroke="#111" stroke-width="1" fill="#fff"/></g>
<g transform="translate(1043 1143) rotate(60)"><rect x="-4" y="-3.5" width="8" height="7" stroke="#111" stroke-width="1" fill="#fff"/></g>
<g transform="translate(1032 1111) rotate(75)"><rect x="-6" y="-4" width="10" height="8" stroke="#111" stroke-width="1.1" fill="#fff"/><line x1="-2" y1="-4" x2="-2" y2="4" stroke="#111"/><ellipse cx="-6" cy="0" rx="1.5" ry="4" stroke="#111" fill="#fff"/></g>
<ellipse cx="1042.7" cy="1025" rx="3.3" ry="1.8" transform="rotate(0 1042.7 1025)" stroke="#111" stroke-width="1.1" fill="none"/>
<path d="M1036.0 1118.0 L1041.0 1130.0" stroke="#333" stroke-width="0.8" fill="none"/>
<path d="M1133 1203 L1108 1262 L1100 1380 C1099 1386 1094 1388 1090 1385 L1058 1371" stroke="#222" stroke-width="4" fill="none" />
<path d="M1133 1203 L1108 1262 L1100 1380 C1099 1386 1094 1388 1090 1385 L1058 1371" stroke="#fff" stroke-width="2" fill="none" />
<g transform="translate(1056 1370) rotate(25)"><rect x="-4" y="-3.5" width="8" height="7" stroke="#111" stroke-width="1" fill="#fff"/></g>
<g transform="translate(1132.4 1199) rotate(70)"><rect x="-4" y="-3.5" width="8" height="7" stroke="#111" stroke-width="1" fill="#fff"/></g>
<path d="M1130 1170 C1134 1166 1140 1168 1142 1172 L1144 1180 L1138 1186 L1134 1182 Z" stroke="#111" stroke-width="1.1" fill="#fff" />
<ellipse cx="1133" cy="1172" rx="3" ry="3.5" transform="rotate(-30 1133 1172)" stroke="#111" stroke-width="1.1" fill="#fff"/>
<ellipse cx="1118.4" cy="1163.5" rx="2" ry="3" transform="rotate(20 1118.4 1163.5)" stroke="#111" stroke-width="1.1" fill="none"/>
<path d="M1121.0 1166.0 L1130.0 1170.0" stroke="#333" stroke-width="0.8" fill="none"/>
<circle cx="1136.5" cy="1191" r="1" stroke="#111" stroke-width="0.8" fill="#111"/>
<path d="M422.8 846 L432 842 L440 848 L440 891 L436 894.5 L422.8 889 Z" stroke="#222" stroke-width="1.1" fill="#fff" />
<path d="M432 842 L432 886 L436 894.5 M432 842 L440 848" stroke="#222" stroke-width="1" fill="none" />
<path d="M425 848 l5 -2 M434 850 l4 2" stroke="#222" stroke-width="1" fill="none" />
<circle cx="427.5" cy="881" r="0.8" stroke="#222" stroke-width="0.8" fill="#222"/>
<ellipse cx="438" cy="919.4" rx="3" ry="2.8" transform="rotate(0 438 919.4)" stroke="#111" stroke-width="1.1" fill="#fff"/>
<ellipse cx="438" cy="919.4" rx="1.5" ry="1.2" transform="rotate(0 438 919.4)" stroke="#111" stroke-width="0.8" fill="#555"/>
<ellipse cx="428.4" cy="938.2" rx="3" ry="2.8" transform="rotate(0 428.4 938.2)" stroke="#111" stroke-width="1.1" fill="#fff"/>
<ellipse cx="428.4" cy="938.2" rx="1.5" ry="1.2" transform="rotate(0 428.4 938.2)" stroke="#111" stroke-width="0.8" fill="#555"/>
<path d="M700.0 890.0 L712.0 1003.0" stroke="#333" stroke-width="0.8" fill="none"/>
<rect x="707" y="947" width="5" height="8" rx="1" stroke="#111" stroke-width="1" fill="#fff"/>
<polygon points="702.0,979.0 707.0,976.0 724.0,986.0 719.0,990.0" stroke="#111" stroke-width="1.1" fill="#fff"/>
<ellipse cx="715" cy="1006" rx="2.5" ry="2" transform="rotate(0 715 1006)" stroke="#111" stroke-width="1.1" fill="#fff"/>
<path d="M520.6 197.9L545.4 219.2 M481.3 216.5L524.7 251.0 M623.0 218.6L583.7 235.7 M445.7 244.8L514.4 276.8 M428.0 286.7L494.7 307.4 M191.0 261.0L272.5 311.0 M183.8 290.0L260.6 330.0 M176.7 321.8L260.6 358.8 M158.5 441.0L247.5 456.0 M373.4 366.5L421.1 394.4 M865.8 294.3L822.6 328.7 M685.2 327.4L721.6 391.0 M644.5 336.3L719.6 405.0 M853.0 378.3L761.5 406.3 M891.3 399.4L761.5 434.3 M588.0 413.8L620.5 419.4 M694.0 429.0L706.8 411.4 M518.0 452.0L551.0 438.0 M550.5 464.0L567.0 452.5 M692.9 463.5L724.7 433.0 M704.4 476.0L662.5 506.4 M565.8 483.0L583.6 466.5 M736.0 502.0L698.0 508.5 M587.4 509.7L596.3 542.8 M859.0 542.7L811.2 508.3 M832.8 558.0L787.0 531.2 M800.5 578.3L765.4 547.8 M75.8 550.0L114.5 600.8 M602.0 584.8L629.4 554.3 M624.3 595.7L679.0 579.7 M550.0 611.6L443.0 606.0 M206.0 639.8L273.5 627.0 M813.8 625.4L874.8 644.4 M815.8 653.3L872.3 669.9 M813.8 680.0L873.5 696.6 M706.4 648.0L680.0 619.6 M706.4 648.0L679.0 634.0 M1011.8 700.2L947.0 705.3 M804.5 719.0L868.0 728.7 M804.5 719.0L875.7 750.3 M1011.8 728.2L944.4 730.5 M1010.6 759.2L940.6 752.0 M772.0 780.4L845.3 780.4 M769.5 782.2L808.1 861.9 M1010.6 791.0L939.3 782.6 M483.9 818.2L443.2 842.3 M1010.6 825.4L935.5 803.2 M1010.6 825.4L935.5 810.0 M711.4 822.7L758.6 876.8 M601.0 888.5L639.2 913.4 M643.0 884.2L683.7 913.4 M951.9 897.6L912.7 887.6 M793.0 914.0L830.0 944.0 M756.2 934.3L714.3 950.3 M489.0 942.3L442.7 921.2 M580.7 966.3L615.0 985.2 M901.0 955.1L861.4 940.3 M774.0 966.3L721.1 985.2 M490.2 975.9L431.0 940.8 M756.2 1025.4L718.0 1007.0 M985.1 1017.6L1037.8 1023.8 M225.8 1028.3L339.8 1057.0 M695.2 1041.0L640.5 1040.0 M454.2 1055.8L444.6 1101.6 M225.8 1057.8L342.8 1075.6 M484.0 1072.3L477.1 1111.8 M695.2 1063.5L641.2 1056.4 M519.7 1091.8L504.7 1125.2 M695.5 1083.8L641.4 1071.1 M943.2 1101.9L1027.0 1114.9 M558.8 1110.9L536.5 1134.7 M744.8 1110.2L676.4 1117.2 M225.3 1112.5L359.3 1126.5 M577.9 1137.9L566.7 1152.2 M1160.8 1139.2L1123.0 1161.6 M748.0 1140.1L679.6 1143.6 M416.6 1137.2L387.3 1112.3 M416.6 1137.2L393.7 1125.7 M225.3 1151.7L369.5 1153.2 M985.1 1152.7L1036.5 1132.4 M1186.5 1163.5L1144.6 1175.1 M444.3 1170.7L496.8 1149.7 M746.4 1172.9L709.8 1161.7 M223.8 1184.8L359.3 1174.8 M1186.5 1199.5L1136.5 1191.1 M439.5 1197.4L498.4 1167.5 M571.5 1212.0L562.9 1172.9 M539.7 1222.2L533.3 1168.1 M225.3 1235.0L340.3 1213.5 M496.1 1233.3L503.8 1186.5 M948.1 1245.4L1010.3 1270.3 M221.2 1258.7L359.3 1227.6 M311.0 1274.0L339.0 1293.8 M274.6 1288.7L311.0 1311.6 M248.7 1305.7L289.4 1332.5 M453.5 1304.0L396.2 1296.3 M1167.6 1328.4L1112.2 1314.0 M187.5 1347.2L226.5 1381.2 M415.3 1357.9L368.8 1347.7 M140.1 1380.1L163.0 1419.0 M110.5 1391.7L136.8 1438.0 M86.7 1406.4L116.8 1453.6" stroke="#111" stroke-width="1.3" fill="none"/>
<g><text x="494.8" y="197.7" transform="matrix(1 0 0 1.04 0 -7.91)">30</text><text x="456.6" y="215.4" transform="matrix(1 0 0 1.04 0 -8.62)">31</text><text x="626.1" y="218.2" transform="matrix(1 0 0 1.04 0 -8.73)">30:1</text><text x="418.4" y="245.6" transform="matrix(1 0 0 1.04 0 -9.82)">49</text><text x="399.8" y="290.2" transform="matrix(1 0 0 1.04 0 -11.61)">31</text><text x="167.1" y="260.0" transform="matrix(1 0 0 1.04 0 -10.40)">51</text><text x="157.4" y="287.4" transform="matrix(1 0 0 1.04 0 -11.50)">22</text><text x="148.5" y="322.7" transform="matrix(1 0 0 1.04 0 -12.91)">48</text><text x="130.1" y="446.7" transform="matrix(1 0 0 1.04 0 -17.87)">50</text><text x="346.2" y="367.7" transform="matrix(1 0 0 1.04 0 -14.71)">44</text><text x="863.7" y="290.7" transform="matrix(1 0 0 1.04 0 -11.63)">34</text><text x="651.1" y="321.2" transform="matrix(1 0 0 1.04 0 -12.85)">35:1</text><text x="618.9" y="334.5" transform="matrix(1 0 0 1.04 0 -13.38)">35</text><text x="857.7" y="379.2" transform="matrix(1 0 0 1.04 0 -15.17)">45:2</text><text x="894.5" y="400.9" transform="matrix(1 0 0 1.04 0 -16.04)">45</text><text x="570.9" y="419.6" transform="matrix(1 0 0 1.04 0 -16.78)">6</text><text x="653.6" y="446.2" transform="matrix(1 0 0 1.04 0 -17.85)">35:2</text><text x="491.1" y="465.1" transform="matrix(1 0 0 1.04 0 -18.60)">12</text><text x="525.9" y="479.1" transform="matrix(1 0 0 1.04 0 -19.16)">24</text><text x="649.1" y="479.0" transform="matrix(1 0 0 1.04 0 -19.16)">45:1</text><text x="701.8" y="475.6" transform="matrix(1 0 0 1.04 0 -19.02)">13</text><text x="552.5" y="494.7" transform="matrix(1 0 0 1.04 0 -19.79)">4</text><text x="737.0" y="504.8" transform="matrix(1 0 0 1.04 0 -20.19)">4</text><text x="575.9" y="504.2" transform="matrix(1 0 0 1.04 0 -20.17)">6</text><text x="857.9" y="558.9" transform="matrix(1 0 0 1.04 0 -22.36)">12</text><text x="829.9" y="577.2" transform="matrix(1 0 0 1.04 0 -23.09)">24</text><text x="802.5" y="592.5" transform="matrix(1 0 0 1.04 0 -23.70)">4</text><text x="54.2" y="546.8" transform="matrix(1 0 0 1.04 0 -21.87)">48</text><text x="576.8" y="600.2" transform="matrix(1 0 0 1.04 0 -24.01)">13</text><text x="609.8" y="605.2" transform="matrix(1 0 0 1.04 0 -24.21)">4</text><text x="552.7" y="620.2" transform="matrix(1 0 0 1.04 0 -24.81)">23</text><text x="178.2" y="648.2" transform="matrix(1 0 0 1.04 0 -25.93)">25</text><text x="768.8" y="628.2" transform="matrix(1 0 0 1.04 0 -25.13)">11:2</text><text x="787.9" y="656.2" transform="matrix(1 0 0 1.04 0 -26.25)">11</text><text x="768.8" y="682.8" transform="matrix(1 0 0 1.04 0 -27.31)">11:1</text><text x="707.4" y="664.3" transform="matrix(1 0 0 1.04 0 -26.57)">21</text><text x="1011.9" y="707.2" transform="matrix(1 0 0 1.04 0 -28.29)">26:2</text><text x="778.1" y="723.8" transform="matrix(1 0 0 1.04 0 -28.95)">39</text><text x="1011.9" y="735.2" transform="matrix(1 0 0 1.04 0 -29.41)">26</text><text x="1011.9" y="765.8" transform="matrix(1 0 0 1.04 0 -30.63)">26:1</text><text x="744.8" y="778.4" transform="matrix(1 0 0 1.04 0 -31.14)">13</text><text x="1012.5" y="797.1" transform="matrix(1 0 0 1.04 0 -31.88)">42</text><text x="484.6" y="815.8" transform="matrix(1 0 0 1.04 0 -32.63)">46</text><text x="1012.7" y="830.2" transform="matrix(1 0 0 1.04 0 -33.21)">13</text><text x="686.7" y="821.6" transform="matrix(1 0 0 1.04 0 -32.86)">13</text><text x="575.8" y="885.2" transform="matrix(1 0 0 1.04 0 -35.41)">28</text><text x="619.2" y="881.1" transform="matrix(1 0 0 1.04 0 -35.24)">13</text><text x="953.5" y="908.0" transform="matrix(1 0 0 1.04 0 -36.32)">20</text><text x="768.5" y="913.6" transform="matrix(1 0 0 1.04 0 -36.54)">43</text><text x="759.9" y="936.0" transform="matrix(1 0 0 1.04 0 -37.44)">32</text><text x="493.4" y="955.7" transform="matrix(1 0 0 1.04 0 -38.23)">29</text><text x="553.1" y="966.5" transform="matrix(1 0 0 1.04 0 -38.66)">13</text><text x="901.5" y="967.5" transform="matrix(1 0 0 1.04 0 -38.70)">13</text><text x="775.9" y="968.3" transform="matrix(1 0 0 1.04 0 -38.73)">27</text><text x="493.6" y="992.6" transform="matrix(1 0 0 1.04 0 -39.70)">17</text><text x="756.6" y="1039.5" transform="matrix(1 0 0 1.04 0 -41.58)">17</text><text x="938.3" y="1019.1" transform="matrix(1 0 0 1.04 0 -40.76)">11:2</text><text x="194.1" y="1031.1" transform="matrix(1 0 0 1.04 0 -41.24)">13</text><text x="697.9" y="1048.2" transform="matrix(1 0 0 1.04 0 -41.93)">2:1</text><text x="449.3" y="1052.2" transform="matrix(1 0 0 1.04 0 -42.09)">9</text><text x="205.5" y="1064.4" transform="matrix(1 0 0 1.04 0 -42.58)">7</text><text x="474.5" y="1068.7" transform="matrix(1 0 0 1.04 0 -42.75)">47</text><text x="697.9" y="1068.8" transform="matrix(1 0 0 1.04 0 -42.75)">2</text><text x="501.6" y="1088.2" transform="matrix(1 0 0 1.04 0 -43.53)">33:2</text><text x="697.4" y="1091.7" transform="matrix(1 0 0 1.04 0 -43.67)">2:2</text><text x="917.8" y="1107.0" transform="matrix(1 0 0 1.04 0 -44.28)">11</text><text x="551.5" y="1107.9" transform="matrix(1 0 0 1.04 0 -44.32)">33</text><text x="749.4" y="1114.9" transform="matrix(1 0 0 1.04 0 -44.60)">1</text><text x="193.9" y="1119.1" transform="matrix(1 0 0 1.04 0 -44.76)">36</text><text x="571.5" y="1134.0" transform="matrix(1 0 0 1.04 0 -45.36)">33:2</text><text x="1161.3" y="1134.8" transform="matrix(1 0 0 1.04 0 -45.39)">35:1</text><text x="748.7" y="1146.7" transform="matrix(1 0 0 1.04 0 -45.87)">52</text><text x="418.2" y="1153.4" transform="matrix(1 0 0 1.04 0 -46.14)">36:1</text><text x="193.6" y="1159.0" transform="matrix(1 0 0 1.04 0 -46.36)">16</text><text x="938.3" y="1164.5" transform="matrix(1 0 0 1.04 0 -46.58)">11:1</text><text x="1189.6" y="1165.1" transform="matrix(1 0 0 1.04 0 -46.60)">35</text><text x="393.3" y="1180.6" transform="matrix(1 0 0 1.04 0 -47.22)">37:2</text><text x="748.1" y="1183.6" transform="matrix(1 0 0 1.04 0 -47.34)">3</text><text x="193.6" y="1193.4" transform="matrix(1 0 0 1.04 0 -47.74)">15</text><text x="1189.6" y="1209.7" transform="matrix(1 0 0 1.04 0 -48.39)">35:2</text><text x="393.3" y="1211.2" transform="matrix(1 0 0 1.04 0 -48.45)">33:1</text><text x="561.1" y="1234.4" transform="matrix(1 0 0 1.04 0 -49.38)">37:2</text><text x="526.1" y="1243.0" transform="matrix(1 0 0 1.04 0 -49.72)">37</text><text x="177.0" y="1244.2" transform="matrix(1 0 0 1.04 0 -49.77)">14:1</text><text x="473.0" y="1253.5" transform="matrix(1 0 0 1.04 0 -50.14)">37:1</text><text x="921.7" y="1248.3" transform="matrix(1 0 0 1.04 0 -49.93)">41</text><text x="194.1" y="1271.6" transform="matrix(1 0 0 1.04 0 -50.86)">14</text><text x="279.5" y="1271.6" transform="matrix(1 0 0 1.04 0 -50.86)">8:1</text><text x="259.9" y="1288.2" transform="matrix(1 0 0 1.04 0 -51.53)">8</text><text x="222.8" y="1305.9" transform="matrix(1 0 0 1.04 0 -52.24)">19</text><text x="455.9" y="1311.8" transform="matrix(1 0 0 1.04 0 -52.47)">5</text><text x="1169.8" y="1337.5" transform="matrix(1 0 0 1.04 0 -53.50)">40</text><text x="165.1" y="1347.4" transform="matrix(1 0 0 1.04 0 -53.90)">18</text><text x="419.5" y="1367.0" transform="matrix(1 0 0 1.04 0 -54.68)">10</text><text x="119.1" y="1375.4" transform="matrix(1 0 0 1.04 0 -55.02)">19</text><text x="97.5" y="1388.8" transform="matrix(1 0 0 1.04 0 -55.55)">8</text><text x="59.7" y="1402.2" transform="matrix(1 0 0 1.04 0 -56.09)">8:1</text></g>
</svg></body></html>
